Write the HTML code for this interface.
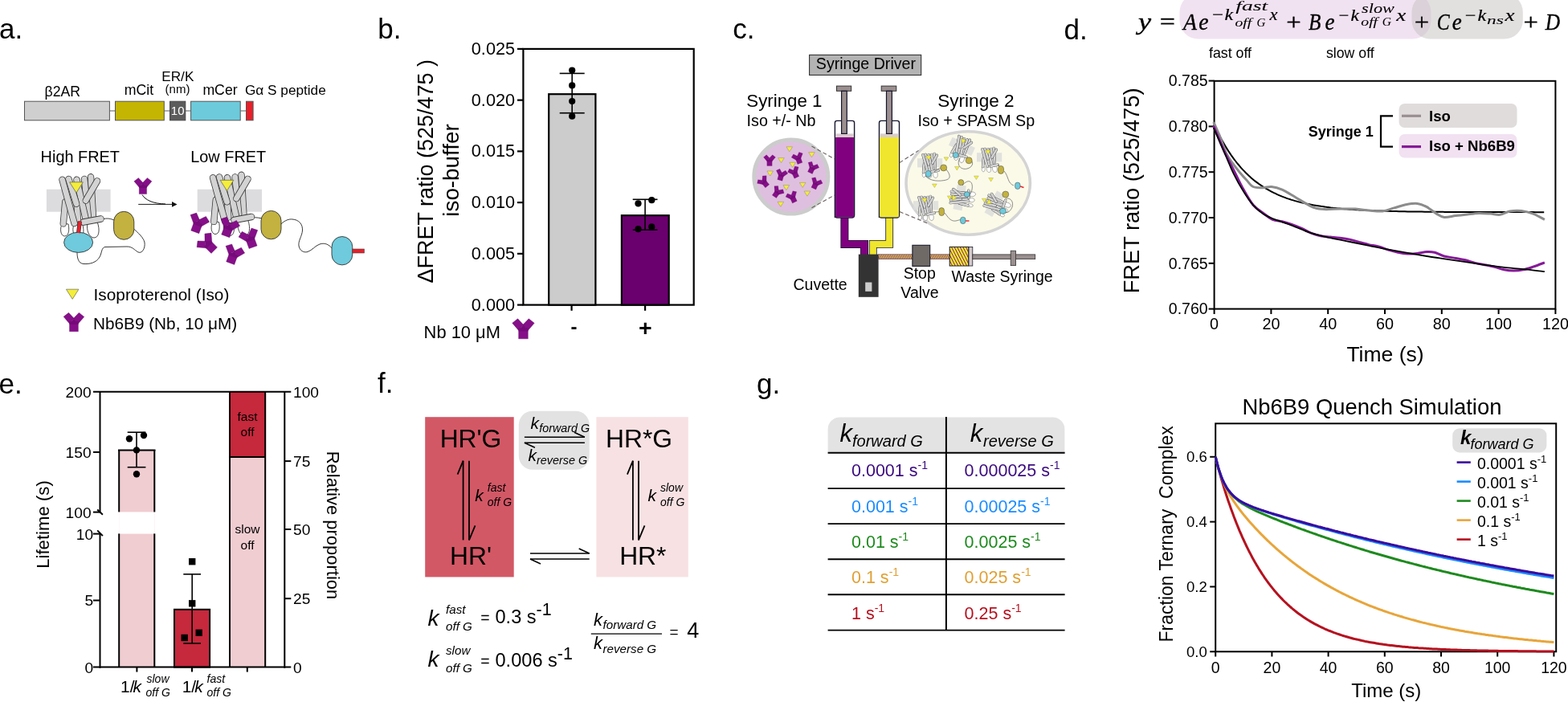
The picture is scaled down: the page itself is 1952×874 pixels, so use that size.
<!DOCTYPE html>
<html><head><meta charset="utf-8"><title>Figure</title>
<style>
html,body{margin:0;padding:0;background:#fff;}
body{width:1952px;height:874px;overflow:hidden;}
svg{display:block;font-family:"Liberation Sans",Arial,sans-serif;}
</style></head><body>
<svg width="1952" height="874" viewBox="0 0 1952 874">
<text x="-1" y="48.3" font-size="35">a.</text>
<text x="470.2" y="48" font-size="35">b.</text>
<text x="912.3" y="48.1" font-size="35">c.</text>
<text x="1324.5" y="48.6" font-size="35">d.</text>
<text x="-1.4" y="490.4" font-size="35">e.</text>
<text x="470" y="489.4" font-size="35">f.</text>
<text x="942" y="489.5" font-size="35">g.</text>
<rect x="651.4" y="60.9" width="212.3" height="318.7" fill="none" stroke="#000" stroke-width="2.2"/>
<line x1="644.0" y1="379.6" x2="651.4" y2="379.6" stroke="#000" stroke-width="2.2"/>
<text x="641.1" y="386.70000000000005" font-size="21.7" text-anchor="end">0.000</text>
<line x1="644.0" y1="315.86" x2="651.4" y2="315.86" stroke="#000" stroke-width="2.2"/>
<text x="641.1" y="322.96000000000004" font-size="21.7" text-anchor="end">0.005</text>
<line x1="644.0" y1="252.12000000000003" x2="651.4" y2="252.12000000000003" stroke="#000" stroke-width="2.2"/>
<text x="641.1" y="259.22" font-size="21.7" text-anchor="end">0.010</text>
<line x1="644.0" y1="188.38000000000002" x2="651.4" y2="188.38000000000002" stroke="#000" stroke-width="2.2"/>
<text x="641.1" y="195.48000000000002" font-size="21.7" text-anchor="end">0.015</text>
<line x1="644.0" y1="124.64000000000004" x2="651.4" y2="124.64000000000004" stroke="#000" stroke-width="2.2"/>
<text x="641.1" y="131.74000000000004" font-size="21.7" text-anchor="end">0.020</text>
<line x1="644.0" y1="60.900000000000034" x2="651.4" y2="60.900000000000034" stroke="#000" stroke-width="2.2"/>
<text x="641.1" y="68.00000000000003" font-size="21.7" text-anchor="end">0.025</text>
<rect x="683.2" y="117.2" width="58.2" height="262.4" fill="#cccccc" stroke="#000" stroke-width="2.2"/>
<rect x="773.9" y="268.2" width="58.8" height="111.4" fill="#6a006e" stroke="#000" stroke-width="2.2"/>
<line x1="712.2" y1="91.4" x2="712.2" y2="140.7" stroke="#000" stroke-width="1.6"/>
<line x1="696.7" y1="91.4" x2="727.7" y2="91.4" stroke="#000" stroke-width="1.6"/>
<line x1="696.7" y1="140.7" x2="727.7" y2="140.7" stroke="#000" stroke-width="1.6"/>
<line x1="803.1" y1="248.3" x2="803.1" y2="286.2" stroke="#000" stroke-width="1.6"/>
<line x1="787.7" y1="248.3" x2="818.5" y2="248.3" stroke="#000" stroke-width="1.6"/>
<line x1="787.7" y1="286.2" x2="818.5" y2="286.2" stroke="#000" stroke-width="1.6"/>
<circle cx="712.2" cy="87.6" r="4.1" fill="#000"/>
<circle cx="712.2" cy="106.4" r="4.1" fill="#000"/>
<circle cx="712.2" cy="126" r="4.1" fill="#000"/>
<circle cx="712.2" cy="144.7" r="4.1" fill="#000"/>
<circle cx="794.5" cy="253.3" r="4.1" fill="#000"/>
<circle cx="811.3" cy="249.2" r="4.1" fill="#000"/>
<circle cx="794.5" cy="285.2" r="4.1" fill="#000"/>
<circle cx="811.3" cy="282.4" r="4.1" fill="#000"/>
<line x1="711.6" y1="379.6" x2="711.6" y2="386.8" stroke="#000" stroke-width="2.2"/>
<line x1="803.1" y1="379.6" x2="803.1" y2="386.8" stroke="#000" stroke-width="2.2"/>
<text x="714.5" y="414.5" font-size="24" text-anchor="middle" font-weight="bold">-</text>
<text x="803.4" y="418" font-size="28.5" text-anchor="middle" font-weight="bold">+</text>
<text x="527.6" y="420.5" font-size="21.9">Nb 10 μM</text>
<text x="538.7" y="213.2" font-size="27" text-anchor="middle" transform="rotate(-90 538.7 213.2)">ΔFRET ratio (525/475 )</text>
<text x="570.6" y="212" font-size="27.8" text-anchor="middle" transform="rotate(-90 570.6 212)">iso-buffer</text>
<g transform="translate(651.3,409.3) scale(1.07)">
<path d="M-12.7,-6.7 L-6.3,-11.7 L0.5,-4.5 L-5.5,1.8 Z M6.5,-11.7 L13,-6.6 L5.8,1.8 L-0.5,-4.5 Z M-5.3,-0.5 H5.6 V11.7 H-5.3 Z" fill="#860f89" stroke="#5a0a5c" stroke-width="0.35"/>
<path d="M-5.3,1.8 L0.2,-4.6 L5.8,1.8 L5.6,3 L-5.3,3Z" fill="#760a7a"/>
</g>
<rect x="1468.5" y="-8" width="313" height="56.5" rx="23" fill="#f1e2f1"/>
<rect x="1757.5" y="-8" width="138.3" height="56.5" rx="23" fill="#c6bfbf" fill-opacity="0.5"/>
<text x="1416.9" y="36.9" font-size="29" font-family="&quot;Liberation Serif&quot;,&quot;DejaVu Serif&quot;,serif" font-style="italic" textLength="16.1" lengthAdjust="spacingAndGlyphs" stroke="#000" stroke-width="0.35">y</text>
<text x="1443.8" y="36.9" font-size="29" font-family="&quot;Liberation Serif&quot;,&quot;DejaVu Serif&quot;,serif" textLength="19.2" lengthAdjust="spacingAndGlyphs" stroke="#000" stroke-width="0.35">=</text>
<text x="1473" y="36.9" font-size="29" font-family="&quot;Liberation Serif&quot;,&quot;DejaVu Serif&quot;,serif" font-style="italic" textLength="17.0" lengthAdjust="spacingAndGlyphs" stroke="#000" stroke-width="0.35">A</text>
<text x="1492.2" y="36.9" font-size="29" font-family="&quot;Liberation Serif&quot;,&quot;DejaVu Serif&quot;,serif" font-style="italic" textLength="12.3" lengthAdjust="spacingAndGlyphs" stroke="#000" stroke-width="0.35">e</text>
<text x="1509" y="25.4" font-size="21" font-family="&quot;Liberation Serif&quot;,&quot;DejaVu Serif&quot;,serif" textLength="14.0" lengthAdjust="spacingAndGlyphs" stroke="#000" stroke-width="0.2">−</text>
<text x="1524.5" y="25.4" font-size="21" font-family="&quot;Liberation Serif&quot;,&quot;DejaVu Serif&quot;,serif" font-style="italic" textLength="10.7" lengthAdjust="spacingAndGlyphs" stroke="#000" stroke-width="0.2">k</text>
<text x="1538.3" y="13" font-size="16.5" font-family="&quot;Liberation Serif&quot;,&quot;DejaVu Serif&quot;,serif" font-style="italic" textLength="40.0" lengthAdjust="spacingAndGlyphs" stroke="#000" stroke-width="0.06">fast</text>
<text x="1537.5" y="33" font-size="15.5" font-family="&quot;Liberation Serif&quot;,&quot;DejaVu Serif&quot;,serif" font-style="italic" textLength="20.8" lengthAdjust="spacingAndGlyphs" stroke="#000" stroke-width="0.06">off</text>
<text x="1564.4" y="33" font-size="15.5" font-family="&quot;Liberation Serif&quot;,&quot;DejaVu Serif&quot;,serif" font-style="italic" textLength="10.8" lengthAdjust="spacingAndGlyphs" stroke="#000" stroke-width="0.06">G</text>
<text x="1580.6" y="25.4" font-size="21" font-family="&quot;Liberation Serif&quot;,&quot;DejaVu Serif&quot;,serif" font-style="italic" textLength="10.0" lengthAdjust="spacingAndGlyphs" stroke="#000" stroke-width="0.2">x</text>
<text x="1601.3" y="36.9" font-size="29" font-family="&quot;Liberation Serif&quot;,&quot;DejaVu Serif&quot;,serif" textLength="18.5" lengthAdjust="spacingAndGlyphs" stroke="#000" stroke-width="0.35">+</text>
<text x="1629" y="36.9" font-size="29" font-family="&quot;Liberation Serif&quot;,&quot;DejaVu Serif&quot;,serif" font-style="italic" textLength="15.4" lengthAdjust="spacingAndGlyphs" stroke="#000" stroke-width="0.35">B</text>
<text x="1649.6" y="36.9" font-size="29" font-family="&quot;Liberation Serif&quot;,&quot;DejaVu Serif&quot;,serif" font-style="italic" textLength="12.0" lengthAdjust="spacingAndGlyphs" stroke="#000" stroke-width="0.35">e</text>
<text x="1666.4" y="25.6" font-size="21" font-family="&quot;Liberation Serif&quot;,&quot;DejaVu Serif&quot;,serif" textLength="12.8" lengthAdjust="spacingAndGlyphs" stroke="#000" stroke-width="0.2">−</text>
<text x="1681.6" y="25.6" font-size="21" font-family="&quot;Liberation Serif&quot;,&quot;DejaVu Serif&quot;,serif" font-style="italic" textLength="10.4" lengthAdjust="spacingAndGlyphs" stroke="#000" stroke-width="0.2">k</text>
<text x="1695.1" y="16" font-size="16.5" font-family="&quot;Liberation Serif&quot;,&quot;DejaVu Serif&quot;,serif" font-style="italic" textLength="40.8" lengthAdjust="spacingAndGlyphs" stroke="#000" stroke-width="0.06">slow</text>
<text x="1694.3" y="32" font-size="15.5" font-family="&quot;Liberation Serif&quot;,&quot;DejaVu Serif&quot;,serif" font-style="italic" textLength="20.8" lengthAdjust="spacingAndGlyphs" stroke="#000" stroke-width="0.06">off</text>
<text x="1720.7" y="32" font-size="15.5" font-family="&quot;Liberation Serif&quot;,&quot;DejaVu Serif&quot;,serif" font-style="italic" textLength="11.2" lengthAdjust="spacingAndGlyphs" stroke="#000" stroke-width="0.06">G</text>
<text x="1738.3" y="25.6" font-size="21" font-family="&quot;Liberation Serif&quot;,&quot;DejaVu Serif&quot;,serif" font-style="italic" textLength="12.0" lengthAdjust="spacingAndGlyphs" stroke="#000" stroke-width="0.2">x</text>
<text x="1760.7" y="36.9" font-size="29" font-family="&quot;Liberation Serif&quot;,&quot;DejaVu Serif&quot;,serif" textLength="18.4" lengthAdjust="spacingAndGlyphs" stroke="#000" stroke-width="0.35">+</text>
<text x="1788.7" y="36.8" font-size="29" font-family="&quot;Liberation Serif&quot;,&quot;DejaVu Serif&quot;,serif" font-style="italic" textLength="15.9" lengthAdjust="spacingAndGlyphs" stroke="#000" stroke-width="0.35">C</text>
<text x="1807.8" y="36.8" font-size="29" font-family="&quot;Liberation Serif&quot;,&quot;DejaVu Serif&quot;,serif" font-style="italic" textLength="12.0" lengthAdjust="spacingAndGlyphs" stroke="#000" stroke-width="0.35">e</text>
<text x="1823.8" y="25.6" font-size="21" font-family="&quot;Liberation Serif&quot;,&quot;DejaVu Serif&quot;,serif" textLength="13.6" lengthAdjust="spacingAndGlyphs" stroke="#000" stroke-width="0.2">−</text>
<text x="1839.5" y="25.6" font-size="21" font-family="&quot;Liberation Serif&quot;,&quot;DejaVu Serif&quot;,serif" font-style="italic" textLength="10.7" lengthAdjust="spacingAndGlyphs" stroke="#000" stroke-width="0.2">k</text>
<text x="1851" y="29.6" font-size="15.5" font-family="&quot;Liberation Serif&quot;,&quot;DejaVu Serif&quot;,serif" font-style="italic" textLength="20.8" lengthAdjust="spacingAndGlyphs" stroke="#000" stroke-width="0.06">ns</text>
<text x="1873.4" y="25.6" font-size="21" font-family="&quot;Liberation Serif&quot;,&quot;DejaVu Serif&quot;,serif" font-style="italic" textLength="12.0" lengthAdjust="spacingAndGlyphs" stroke="#000" stroke-width="0.2">x</text>
<text x="1896.6" y="36.9" font-size="29" font-family="&quot;Liberation Serif&quot;,&quot;DejaVu Serif&quot;,serif" textLength="18.4" lengthAdjust="spacingAndGlyphs" stroke="#000" stroke-width="0.35">+</text>
<text x="1923.7" y="36.8" font-size="29" font-family="&quot;Liberation Serif&quot;,&quot;DejaVu Serif&quot;,serif" font-style="italic" textLength="18.4" lengthAdjust="spacingAndGlyphs" stroke="#000" stroke-width="0.35">D</text>
<text x="1505" y="72.4" font-size="17.8">fast off</text>
<text x="1651" y="72.4" font-size="17.7">slow off</text>
<rect x="1511.6" y="100.8" width="424.8" height="283.8" fill="none" stroke="#000" stroke-width="2.0"/>
<line x1="1504.6" y1="384.6" x2="1511.6" y2="384.6" stroke="#000" stroke-width="2.0"/>
<text x="1503.6" y="391.40000000000003" font-size="19.5" text-anchor="end">0.760</text>
<line x1="1504.6" y1="327.79999999999995" x2="1511.6" y2="327.79999999999995" stroke="#000" stroke-width="2.0"/>
<text x="1503.6" y="334.59999999999997" font-size="19.5" text-anchor="end">0.765</text>
<line x1="1504.6" y1="270.9999999999999" x2="1511.6" y2="270.9999999999999" stroke="#000" stroke-width="2.0"/>
<text x="1503.6" y="277.7999999999999" font-size="19.5" text-anchor="end">0.770</text>
<line x1="1504.6" y1="214.19999999999987" x2="1511.6" y2="214.19999999999987" stroke="#000" stroke-width="2.0"/>
<text x="1503.6" y="220.9999999999999" font-size="19.5" text-anchor="end">0.775</text>
<line x1="1504.6" y1="157.3999999999998" x2="1511.6" y2="157.3999999999998" stroke="#000" stroke-width="2.0"/>
<text x="1503.6" y="164.19999999999982" font-size="19.5" text-anchor="end">0.780</text>
<line x1="1504.6" y1="100.5999999999998" x2="1511.6" y2="100.5999999999998" stroke="#000" stroke-width="2.0"/>
<text x="1503.6" y="107.39999999999979" font-size="19.5" text-anchor="end">0.785</text>
<line x1="1511.6" y1="384.6" x2="1511.6" y2="391" stroke="#000" stroke-width="2.0"/>
<text x="1511.6" y="409.8" font-size="19.8" text-anchor="middle">0</text>
<line x1="1582.3999999999999" y1="384.6" x2="1582.3999999999999" y2="391" stroke="#000" stroke-width="2.0"/>
<text x="1582.3999999999999" y="409.8" font-size="19.8" text-anchor="middle">20</text>
<line x1="1653.2" y1="384.6" x2="1653.2" y2="391" stroke="#000" stroke-width="2.0"/>
<text x="1653.2" y="409.8" font-size="19.8" text-anchor="middle">40</text>
<line x1="1724.0" y1="384.6" x2="1724.0" y2="391" stroke="#000" stroke-width="2.0"/>
<text x="1724.0" y="409.8" font-size="19.8" text-anchor="middle">60</text>
<line x1="1794.8" y1="384.6" x2="1794.8" y2="391" stroke="#000" stroke-width="2.0"/>
<text x="1794.8" y="409.8" font-size="19.8" text-anchor="middle">80</text>
<line x1="1865.6" y1="384.6" x2="1865.6" y2="391" stroke="#000" stroke-width="2.0"/>
<text x="1865.6" y="409.8" font-size="19.8" text-anchor="middle">100</text>
<line x1="1936.4" y1="384.6" x2="1936.4" y2="391" stroke="#000" stroke-width="2.0"/>
<text x="1936.4" y="409.8" font-size="19.8" text-anchor="middle">120</text>
<text x="1724.5" y="449.9" font-size="26.5" text-anchor="middle">Time (s)</text>
<text x="1417.7" y="237.4" font-size="27.3" text-anchor="middle" transform="rotate(-90 1417.7 237.4)">FRET ratio (525/475)</text>
<path d="M1511.6,155.1 C1512.2,156.4 1514.0,160.3 1515.1,162.7 C1516.3,165.1 1517.5,167.5 1518.7,169.7 C1519.9,172.0 1521.0,174.2 1522.2,176.3 C1523.4,178.4 1524.6,180.4 1525.8,182.4 C1526.9,184.4 1528.1,186.2 1529.3,188.1 C1530.5,189.9 1531.7,191.7 1532.8,193.4 C1534.0,195.1 1535.2,196.7 1536.4,198.3 C1537.6,199.9 1538.7,201.4 1539.9,202.9 C1541.1,204.3 1542.3,205.7 1543.5,207.1 C1544.6,208.5 1545.8,209.8 1547.0,211.1 C1548.2,212.3 1549.4,213.6 1550.5,214.8 C1551.7,215.9 1552.9,217.1 1554.1,218.2 C1555.3,219.3 1556.4,220.4 1557.6,221.4 C1558.8,222.4 1560.0,223.4 1561.2,224.4 C1562.3,225.3 1563.5,226.2 1564.7,227.1 C1565.9,228.0 1567.1,228.9 1568.2,229.7 C1569.4,230.5 1570.6,231.3 1571.8,232.1 C1573.0,232.9 1574.1,233.6 1575.3,234.3 C1576.5,235.0 1577.7,235.7 1578.9,236.4 C1580.0,237.1 1581.2,237.7 1582.4,238.3 C1583.6,238.9 1584.8,239.5 1585.9,240.1 C1587.1,240.7 1588.3,241.2 1589.5,241.8 C1590.7,242.3 1591.8,242.8 1593.0,243.3 C1594.2,243.8 1595.4,244.3 1596.6,244.8 C1597.7,245.3 1598.9,245.7 1600.1,246.1 C1601.3,246.6 1602.5,247.0 1603.6,247.4 C1604.8,247.8 1606.0,248.2 1607.2,248.6 C1608.4,248.9 1609.5,249.3 1610.7,249.6 C1611.9,250.0 1613.1,250.3 1614.3,250.6 C1615.4,251.0 1616.6,251.3 1617.8,251.6 C1619.0,251.9 1620.2,252.2 1621.3,252.5 C1622.5,252.7 1623.7,253.0 1624.9,253.3 C1626.1,253.5 1627.2,253.8 1628.4,254.0 C1629.6,254.3 1630.8,254.5 1632.0,254.7 C1633.1,255.0 1634.3,255.2 1635.5,255.4 C1636.7,255.6 1637.9,255.8 1639.0,256.0 C1640.2,256.2 1641.4,256.4 1642.6,256.6 C1643.8,256.8 1644.9,256.9 1646.1,257.1 C1647.3,257.3 1648.5,257.4 1649.7,257.6 C1650.8,257.7 1652.0,257.9 1653.2,258.0 C1654.4,258.2 1655.6,258.3 1656.7,258.5 C1657.9,258.6 1659.1,258.7 1660.3,258.9 C1661.5,259.0 1662.6,259.1 1663.8,259.2 C1665.0,259.4 1666.2,259.5 1667.4,259.6 C1668.5,259.7 1669.7,259.8 1670.9,259.9 C1672.1,260.0 1673.3,260.1 1674.4,260.2 C1675.6,260.3 1676.8,260.4 1678.0,260.5 C1679.2,260.6 1680.3,260.7 1681.5,260.7 C1682.7,260.8 1683.9,260.9 1685.1,261.0 C1686.2,261.0 1687.4,261.1 1688.6,261.2 C1689.8,261.3 1691.0,261.3 1692.1,261.4 C1693.3,261.5 1694.5,261.5 1695.7,261.6 C1696.9,261.7 1698.0,261.7 1699.2,261.8 C1700.4,261.8 1701.6,261.9 1702.8,261.9 C1703.9,262.0 1705.1,262.0 1706.3,262.1 C1707.5,262.1 1708.7,262.2 1709.8,262.2 C1711.0,262.3 1712.2,262.3 1713.4,262.4 C1714.6,262.4 1715.7,262.5 1716.9,262.5 C1718.1,262.5 1719.3,262.6 1720.5,262.6 C1721.6,262.7 1722.8,262.7 1724.0,262.7 C1725.2,262.8 1726.4,262.8 1727.5,262.8 C1728.7,262.9 1729.9,262.9 1731.1,262.9 C1732.3,263.0 1733.4,263.0 1734.6,263.0 C1735.8,263.0 1737.0,263.1 1738.2,263.1 C1739.3,263.1 1740.5,263.1 1741.7,263.2 C1742.9,263.2 1744.1,263.2 1745.2,263.2 C1746.4,263.3 1747.6,263.3 1748.8,263.3 C1750.0,263.3 1751.1,263.3 1752.3,263.4 C1753.5,263.4 1754.7,263.4 1755.9,263.4 C1757.0,263.4 1758.2,263.5 1759.4,263.5 C1760.6,263.5 1761.8,263.5 1762.9,263.5 C1764.1,263.5 1765.3,263.6 1766.5,263.6 C1767.7,263.6 1768.8,263.6 1770.0,263.6 C1771.2,263.6 1772.4,263.6 1773.6,263.7 C1774.7,263.7 1775.9,263.7 1777.1,263.7 C1778.3,263.7 1779.5,263.7 1780.6,263.7 C1781.8,263.7 1783.0,263.7 1784.2,263.8 C1785.4,263.8 1786.5,263.8 1787.7,263.8 C1788.9,263.8 1790.1,263.8 1791.3,263.8 C1792.4,263.8 1793.6,263.8 1794.8,263.8 C1796.0,263.8 1797.2,263.9 1798.3,263.9 C1799.5,263.9 1800.7,263.9 1801.9,263.9 C1803.1,263.9 1804.2,263.9 1805.4,263.9 C1806.6,263.9 1807.8,263.9 1809.0,263.9 C1810.1,263.9 1811.3,263.9 1812.5,263.9 C1813.7,263.9 1814.9,264.0 1816.0,264.0 C1817.2,264.0 1818.4,264.0 1819.6,264.0 C1820.8,264.0 1821.9,264.0 1823.1,264.0 C1824.3,264.0 1825.5,264.0 1826.7,264.0 C1827.8,264.0 1829.0,264.0 1830.2,264.0 C1831.4,264.0 1832.6,264.0 1833.7,264.0 C1834.9,264.0 1836.1,264.0 1837.3,264.0 C1838.5,264.0 1839.6,264.0 1840.8,264.0 C1842.0,264.1 1843.2,264.1 1844.4,264.1 C1845.5,264.1 1846.7,264.1 1847.9,264.1 C1849.1,264.1 1850.3,264.1 1851.4,264.1 C1852.6,264.1 1853.8,264.1 1855.0,264.1 C1856.2,264.1 1857.3,264.1 1858.5,264.1 C1859.7,264.1 1860.9,264.1 1862.1,264.1 C1863.2,264.1 1864.4,264.1 1865.6,264.1 C1866.8,264.1 1868.0,264.1 1869.1,264.1 C1870.3,264.1 1871.5,264.1 1872.7,264.1 C1873.9,264.1 1875.0,264.1 1876.2,264.1 C1877.4,264.1 1878.6,264.1 1879.8,264.1 C1880.9,264.1 1882.1,264.1 1883.3,264.1 C1884.5,264.1 1885.7,264.1 1886.8,264.1 C1888.0,264.1 1889.2,264.1 1890.4,264.1 C1891.6,264.1 1892.7,264.1 1893.9,264.1 C1895.1,264.1 1896.3,264.1 1897.5,264.1 C1898.6,264.1 1899.8,264.1 1901.0,264.1 C1902.2,264.1 1903.4,264.1 1904.5,264.1 C1905.7,264.1 1906.9,264.1 1908.1,264.1 C1909.3,264.2 1910.4,264.2 1911.6,264.2 C1912.8,264.2 1914.0,264.2 1915.2,264.2 C1916.3,264.2 1917.5,264.2 1918.7,264.2 C1919.9,264.2 1921.7,264.2 1922.2,264.2" fill="none" stroke="#000" stroke-width="2"/>
<path d="M1510.8,152.0 C1512.2,155.2 1516.6,164.8 1519.2,171.2 C1521.8,177.6 1523.8,185.1 1526.4,190.5 C1529.0,195.9 1532.0,199.7 1534.8,203.7 C1537.6,207.7 1540.4,211.1 1543.2,214.5 C1546.1,217.9 1548.9,221.1 1551.7,224.1 C1554.5,227.1 1556.7,230.9 1560.1,232.5 C1563.5,234.1 1568.3,233.7 1572.1,233.7 C1575.9,233.7 1578.9,232.1 1582.9,232.5 C1586.9,232.9 1591.1,233.9 1596.1,236.1 C1601.1,238.3 1608.1,242.9 1612.9,245.7 C1617.7,248.5 1620.9,250.7 1624.9,252.9 C1628.9,255.1 1632.9,257.7 1637.0,258.9 C1641.0,260.2 1643.8,260.4 1649.0,260.6 C1654.2,260.8 1661.8,260.2 1668.2,260.1 C1674.6,260.1 1681.4,259.8 1687.4,260.1 C1693.4,260.5 1698.6,261.6 1704.2,262.1 C1709.8,262.5 1715.8,263.5 1721.0,263.0 C1726.3,262.5 1730.7,260.3 1735.5,258.9 C1740.3,257.6 1745.1,255.8 1749.9,254.8 C1754.7,253.9 1759.9,252.9 1764.3,253.4 C1768.7,253.9 1772.3,255.6 1776.3,257.7 C1780.3,259.9 1784.7,264.0 1788.3,266.1 C1791.9,268.3 1793.9,270.1 1797.9,270.5 C1801.9,270.9 1807.5,269.1 1812.3,268.5 C1817.2,267.9 1822.0,267.4 1826.8,266.9 C1831.6,266.3 1836.4,265.5 1841.2,265.4 C1846.0,265.3 1851.2,265.8 1855.6,266.1 C1860.0,266.5 1863.6,267.9 1867.6,267.3 C1871.6,266.8 1875.2,263.8 1879.6,263.0 C1884.0,262.2 1889.2,262.0 1894.0,262.5 C1898.8,263.1 1903.7,264.3 1908.5,266.1 C1913.3,267.9 1920.5,272.1 1922.9,273.3" fill="none" stroke="#8c8c8c" stroke-width="3"/>
<path d="M1510.8,156.8 C1513.0,162.0 1519.8,178.8 1524.0,188.1 C1528.2,197.3 1532.0,204.1 1536.0,212.1 C1540.0,220.1 1544.0,228.9 1548.1,236.1 C1552.1,243.3 1556.1,250.5 1560.1,255.3 C1564.1,260.1 1568.1,261.9 1572.1,264.9 C1576.1,267.9 1580.1,271.5 1584.1,273.3 C1588.1,275.2 1592.1,274.8 1596.1,275.8 C1600.1,276.8 1604.1,278.0 1608.1,279.4 C1612.1,280.8 1616.1,282.4 1620.1,284.2 C1624.1,286.0 1628.1,288.6 1632.1,290.2 C1636.2,291.8 1640.2,293.0 1644.2,293.8 C1648.2,294.6 1652.2,294.6 1656.2,295.0 C1660.2,295.4 1664.2,295.7 1668.2,296.2 C1672.2,296.7 1676.2,297.2 1680.2,298.1 C1684.2,299.0 1688.2,300.4 1692.2,301.5 C1696.2,302.5 1700.2,303.7 1704.2,304.6 C1708.2,305.5 1712.2,305.9 1716.2,307.0 C1720.2,308.1 1724.3,309.9 1728.3,311.1 C1732.3,312.3 1736.3,313.4 1740.3,314.2 C1744.3,315.0 1748.3,315.7 1752.3,315.9 C1756.3,316.1 1760.3,315.8 1764.3,315.4 C1768.3,315.0 1772.7,313.7 1776.3,313.5 C1779.9,313.3 1782.3,313.3 1785.9,314.2 C1789.5,315.1 1793.5,317.8 1797.9,319.0 C1802.3,320.2 1807.9,320.6 1812.3,321.4 C1816.8,322.2 1820.4,322.8 1824.4,323.8 C1828.4,324.8 1832.4,326.4 1836.4,327.4 C1840.4,328.4 1844.4,329.0 1848.4,329.8 C1852.4,330.6 1856.4,331.2 1860.4,332.2 C1864.4,333.2 1868.4,335.0 1872.4,335.8 C1876.4,336.6 1880.4,337.0 1884.4,337.0 C1888.4,337.0 1892.4,336.6 1896.4,335.8 C1900.4,335.0 1904.1,333.7 1908.5,332.2 C1912.9,330.7 1920.5,327.8 1922.9,326.9" fill="none" stroke="#861a98" stroke-width="3"/>
<path d="M1510.8,159.2 C1513.0,164.2 1519.8,179.6 1524.0,189.3 C1528.2,198.9 1532.0,208.7 1536.0,216.9 C1540.0,225.1 1544.0,232.1 1548.1,238.5 C1552.1,244.9 1556.1,250.7 1560.1,255.3 C1564.1,259.9 1568.1,263.3 1572.1,266.1 C1576.1,268.9 1578.1,269.7 1584.1,272.1 C1590.1,274.6 1600.1,277.6 1608.1,280.6 C1616.1,283.6 1624.1,287.6 1632.1,290.2 C1640.2,292.8 1648.2,294.4 1656.2,296.2 C1664.2,298.0 1672.2,299.4 1680.2,301.0 C1688.2,302.6 1696.2,304.2 1704.2,305.8 C1712.2,307.4 1720.2,309.1 1728.3,310.6 C1736.3,312.1 1744.3,313.5 1752.3,314.9 C1760.3,316.3 1768.3,317.7 1776.3,319.0 C1784.3,320.3 1792.3,321.4 1800.3,322.6 C1808.3,323.8 1816.4,325.0 1824.4,326.2 C1832.4,327.4 1840.4,328.7 1848.4,329.8 C1856.4,330.9 1864.4,332.1 1872.4,332.9 C1880.4,333.8 1888.0,334.2 1896.4,335.1 C1904.9,336.0 1918.5,337.7 1922.9,338.2" fill="none" stroke="#000" stroke-width="1.8"/>
<rect x="1741.6" y="129" width="146.9" height="30" fill="#e0dcdc" stroke="none" stroke-width="0" rx="7"/>
<rect x="1741.6" y="167" width="146.9" height="29.5" fill="#f1e1f1" stroke="none" stroke-width="0" rx="7"/>
<line x1="1745" y1="144.3" x2="1769" y2="144.3" stroke="#9a8f90" stroke-width="3.2"/>
<line x1="1745" y1="182.6" x2="1769" y2="182.6" stroke="#861a98" stroke-width="3.2"/>
<text x="1779" y="150.6" font-size="18.6" font-weight="bold">Iso</text>
<text x="1779" y="188.4" font-size="18.6" font-weight="bold">Iso + Nb6B9</text>
<text x="1628.8" y="169.8" font-size="18.0" font-weight="bold">Syringe 1</text>
<path d="M1734,144.3 H1719 V182.6 H1734" fill="none" stroke="#000" stroke-width="2.2"/>
<rect x="148.2" y="560.4" width="44.1" height="270.20000000000005" fill="#f0cdd1" stroke="none" stroke-width="1"/>
<rect x="148.2" y="637.4" width="44.1" height="27.2" fill="#fff" stroke="none" stroke-width="1"/>
<line x1="148.2" y1="560.4" x2="148.2" y2="637.4" stroke="#000" stroke-width="2.0"/>
<line x1="192.3" y1="560.4" x2="192.3" y2="637.4" stroke="#000" stroke-width="2.0"/>
<line x1="147" y1="560.4" x2="193.5" y2="560.4" stroke="#000" stroke-width="2.0"/>
<line x1="148.2" y1="664.4" x2="148.2" y2="830.6" stroke="#000" stroke-width="2.0"/>
<line x1="192.3" y1="664.4" x2="192.3" y2="830.6" stroke="#000" stroke-width="2.0"/>
<rect x="217.0" y="758.8" width="44.1" height="71.80000000000007" fill="#c6283c" stroke="#000" stroke-width="2.0"/>
<rect x="286.0" y="487.8" width="44.2" height="81.19999999999999" fill="#c6283c" stroke="none" stroke-width="1"/>
<rect x="286.0" y="569" width="44.2" height="261.6" fill="#f0cdd1" stroke="none" stroke-width="1"/>
<line x1="286.0" y1="487.8" x2="286.0" y2="830.6" stroke="#000" stroke-width="2.0"/>
<line x1="330.2" y1="487.8" x2="330.2" y2="830.6" stroke="#000" stroke-width="2.0"/>
<line x1="286" y1="569" x2="330.2" y2="569" stroke="#000" stroke-width="2.0"/>
<line x1="116" y1="487.8" x2="362.3" y2="487.8" stroke="#000" stroke-width="2.0"/>
<line x1="124.5" y1="487.8" x2="124.5" y2="637.8" stroke="#000" stroke-width="2.0"/>
<line x1="124.5" y1="664.6" x2="124.5" y2="831.8000000000001" stroke="#000" stroke-width="2.0"/>
<line x1="121.2" y1="634.4" x2="127.9" y2="640.7" stroke="#000" stroke-width="2.0"/>
<line x1="121.2" y1="660.4" x2="127.9" y2="667.1" stroke="#000" stroke-width="2.0"/>
<line x1="354.3" y1="487.8" x2="354.3" y2="831.8000000000001" stroke="#000" stroke-width="2.0"/>
<line x1="116" y1="830.6" x2="362.3" y2="830.6" stroke="#000" stroke-width="2.0"/>
<text x="113.6" y="494.7" font-size="19.2" text-anchor="end">200</text>
<line x1="116" y1="562.9" x2="124.5" y2="562.9" stroke="#000" stroke-width="2.0"/>
<text x="113.6" y="569.8" font-size="19.2" text-anchor="end">150</text>
<line x1="116" y1="637.6" x2="124.5" y2="637.6" stroke="#000" stroke-width="2.0"/>
<text x="113.6" y="644.5" font-size="19.2" text-anchor="end">100</text>
<line x1="116" y1="664.6" x2="124.5" y2="664.6" stroke="#000" stroke-width="2.0"/>
<text x="116.2" y="671.5" font-size="19.2" text-anchor="end">10</text>
<line x1="116" y1="747.5" x2="124.5" y2="747.5" stroke="#000" stroke-width="2.0"/>
<text x="116.2" y="754.4" font-size="19.2" text-anchor="end">5</text>
<text x="116.2" y="837.5" font-size="19.2" text-anchor="end">0</text>
<text x="365" y="494.7" font-size="19.2">100</text>
<line x1="354.3" y1="574.1" x2="362.3" y2="574.1" stroke="#000" stroke-width="2.0"/>
<text x="365" y="581.0" font-size="19.2">75</text>
<line x1="354.3" y1="659.0" x2="362.3" y2="659.0" stroke="#000" stroke-width="2.0"/>
<text x="365" y="665.9" font-size="19.2">50</text>
<line x1="354.3" y1="745.2" x2="362.3" y2="745.2" stroke="#000" stroke-width="2.0"/>
<text x="365" y="752.1" font-size="19.2">25</text>
<text x="365" y="837.5" font-size="19.2">0</text>
<line x1="170.4" y1="830.6" x2="170.4" y2="836.6" stroke="#000" stroke-width="2.0"/>
<line x1="239.0" y1="830.6" x2="239.0" y2="836.6" stroke="#000" stroke-width="2.0"/>
<line x1="307.8" y1="830.6" x2="307.8" y2="836.6" stroke="#000" stroke-width="2.0"/>
<line x1="170" y1="538.2" x2="170" y2="581.7" stroke="#000" stroke-width="1.6"/>
<line x1="158.7" y1="538.2" x2="181.4" y2="538.2" stroke="#000" stroke-width="1.6"/>
<line x1="158.7" y1="581.7" x2="181.4" y2="581.7" stroke="#000" stroke-width="1.6"/>
<circle cx="161" cy="546.2" r="4.2" fill="#000"/>
<circle cx="179" cy="542" r="4.2" fill="#000"/>
<circle cx="170" cy="560.4" r="4.2" fill="#000"/>
<circle cx="170" cy="590.3" r="4.2" fill="#000"/>
<line x1="239.2" y1="714.9" x2="239.2" y2="801" stroke="#000" stroke-width="1.6"/>
<line x1="228.3" y1="714.9" x2="250" y2="714.9" stroke="#000" stroke-width="1.6"/>
<line x1="228.3" y1="801" x2="250" y2="801" stroke="#000" stroke-width="1.6"/>
<rect x="235.0" y="695.0" width="8.4" height="8.4" fill="#000" stroke="none" stroke-width="1"/>
<rect x="235.0" y="747.0999999999999" width="8.4" height="8.4" fill="#000" stroke="none" stroke-width="1"/>
<rect x="225.5" y="789.8" width="8.4" height="8.4" fill="#000" stroke="none" stroke-width="1"/>
<rect x="243.5" y="783.5999999999999" width="8.4" height="8.4" fill="#000" stroke="none" stroke-width="1"/>
<text x="308" y="523.5" font-size="15.5" text-anchor="middle">fast</text>
<text x="308" y="543.2" font-size="15.5" text-anchor="middle">off</text>
<text x="308" y="664" font-size="15.5" text-anchor="middle">slow</text>
<text x="308" y="684" font-size="15.5" text-anchor="middle">off</text>
<text x="61.2" y="653" font-size="22.2" text-anchor="middle" transform="rotate(-90 61.2 653)">Lifetime (s)</text>
<text x="406.7" y="654" font-size="22" text-anchor="middle" transform="rotate(90 406.7 654)">Relative proportion</text>
<text x="150" y="862" font-size="21">1/</text>
<text x="165.5" y="862" font-size="21" font-style="italic">k</text>
<text x="182.5" y="849.7" font-size="14" font-style="italic">slow</text>
<text x="181.5" y="867.2" font-size="14" font-style="italic">off G</text>
<text x="226.7" y="862" font-size="21">1/</text>
<text x="242.2" y="862" font-size="21" font-style="italic">k</text>
<text x="257.5" y="849.7" font-size="14" font-style="italic">fast</text>
<text x="257.5" y="867.2" font-size="14" font-style="italic">off G</text>
<rect x="529.2" y="519.2" width="110.5" height="199.2" fill="#d35866" stroke="none" stroke-width="1"/>
<rect x="742.4" y="519.2" width="114.4" height="199.2" fill="#f7e1e3" stroke="none" stroke-width="1"/>
<rect x="645.8" y="511.8" width="87.9" height="72.9" fill="#e2e2e2" stroke="none" stroke-width="1" rx="17"/>
<text x="586" y="557.4" font-size="31.8" text-anchor="middle">HR'G</text>
<text x="795.5" y="557.4" font-size="31.8" text-anchor="middle">HR*G</text>
<text x="586" y="703.4" font-size="31.8" text-anchor="middle">HR'</text>
<text x="800.3" y="703.4" font-size="31.8" text-anchor="middle">HR*</text>
<line x1="652.9" y1="544.2" x2="727.9" y2="544.2" stroke="#000" stroke-width="1.6"/><path d="M727.9,544.2 L714.9,538.2" stroke="#000" stroke-width="1.6" fill="none"/><line x1="652.9" y1="551.3" x2="727.9" y2="551.3" stroke="#000" stroke-width="1.6"/><path d="M652.9,551.3 L665.9,557.3" stroke="#000" stroke-width="1.6" fill="none"/>
<line x1="660" y1="689" x2="733.7" y2="689" stroke="#000" stroke-width="1.6"/><path d="M733.7,689 L720.7,683" stroke="#000" stroke-width="1.6" fill="none"/><line x1="660" y1="696" x2="733.7" y2="696" stroke="#000" stroke-width="1.6"/><path d="M660,696 L673,702" stroke="#000" stroke-width="1.6" fill="none"/>
<line x1="576.6" y1="573.7" x2="576.6" y2="672.4" stroke="#000" stroke-width="1.8"/><path d="M576.6,573.7 L569.6,590.7" stroke="#000" stroke-width="1.8" fill="none"/><line x1="584.0" y1="573.7" x2="584.0" y2="672.4" stroke="#000" stroke-width="1.8"/><path d="M584.0,672.4 L591.5,654.4" stroke="#000" stroke-width="1.8" fill="none"/>
<line x1="787.9" y1="573.7" x2="787.9" y2="672.4" stroke="#000" stroke-width="1.8"/><path d="M787.9,573.7 L780.9,590.7" stroke="#000" stroke-width="1.8" fill="none"/><line x1="795.0" y1="573.7" x2="795.0" y2="672.4" stroke="#000" stroke-width="1.8"/><path d="M795.0,672.4 L802.5,654.4" stroke="#000" stroke-width="1.8" fill="none"/>
<text x="660.5" y="534.2" font-size="21" font-style="italic">k</text>
<text x="671.3" y="538.2" font-size="14.3" font-style="italic">forward G</text>
<text x="657.5" y="573.7" font-size="21" font-style="italic">k</text>
<text x="668" y="577.6" font-size="14.4" font-style="italic">reverse G</text>
<text x="591.2" y="623.7" font-size="21" font-style="italic">k</text>
<text x="606.8" y="611.8" font-size="14" font-style="italic">fast</text>
<text x="606.8" y="629.5" font-size="14" font-style="italic">off G</text>
<text x="806.4" y="623.7" font-size="21" font-style="italic">k</text>
<text x="822" y="611.8" font-size="14" font-style="italic">slow</text>
<text x="822" y="629.5" font-size="14" font-style="italic">off G</text>
<text x="532.5" y="778.7" font-size="28" font-style="italic">k</text>
<text x="555" y="763.6" font-size="15.2" font-style="italic">fast</text>
<text x="555" y="785.2" font-size="15.2" font-style="italic">off G</text>
<text x="598.2" y="775.5" font-size="19.5">=</text>
<text x="616.5" y="775.5" font-size="23.6">0.3 s</text>
<text x="667.5" y="765.7" font-size="21.5">-1</text>
<text x="532.5" y="830.4" font-size="28" font-style="italic">k</text>
<text x="555" y="815.2" font-size="15.2" font-style="italic">slow</text>
<text x="555" y="836.8" font-size="15.2" font-style="italic">off G</text>
<text x="598.2" y="830.4" font-size="19.5">=</text>
<text x="616.5" y="830.4" font-size="23.6">0.006 s</text>
<text x="693.8" y="821.3" font-size="21.5">-1</text>
<text x="739" y="778.7" font-size="22" font-style="italic">k</text>
<text x="750.5" y="783.3" font-size="15.2" font-style="italic">forward G</text>
<line x1="735.8" y1="789.2" x2="824" y2="789.2" stroke="#000" stroke-width="1.2"/>
<text x="739" y="808.2" font-size="22" font-style="italic">k</text>
<text x="750.5" y="812.9" font-size="15.2" font-style="italic">reverse G</text>
<text x="833.6" y="792.5" font-size="19">=</text>
<text x="855.2" y="793.5" font-size="27">4</text>
<path d="M1045.6,519.4 H1310.4 A15,15 0 0 1 1325.4,534.4 V563.7 H1030.6 V534.4 A15,15 0 0 1 1045.6,519.4 Z" fill="#e3e3e3"/>
<line x1="1030.6" y1="563.7" x2="1325.6" y2="563.7" stroke="#000" stroke-width="1.9"/>
<line x1="1030.6" y1="608.1" x2="1325.6" y2="608.1" stroke="#000" stroke-width="1.9"/>
<line x1="1030.6" y1="652.1" x2="1325.6" y2="652.1" stroke="#000" stroke-width="1.9"/>
<line x1="1030.6" y1="696.2" x2="1325.6" y2="696.2" stroke="#000" stroke-width="1.9"/>
<line x1="1030.6" y1="740.3" x2="1325.6" y2="740.3" stroke="#000" stroke-width="1.9"/>
<line x1="1030.6" y1="784.6" x2="1325.6" y2="784.6" stroke="#000" stroke-width="1.9"/>
<line x1="1177.9" y1="519.0" x2="1177.9" y2="784.6" stroke="#000" stroke-width="2.0"/>
<text x="1045.5" y="549.5" font-size="31" font-style="italic">k</text>
<text x="1061" y="555.5" font-size="20" font-style="italic">forward G</text>
<text x="1207.8" y="549.5" font-size="31" font-style="italic">k</text>
<text x="1224" y="555.5" font-size="20" font-style="italic">reverse G</text>
<text x="1060" y="593.3" font-size="21.5" fill="#3a0a7e">0.0001 s<tspan dy="-9" font-size="14">-1</tspan></text>
<text x="1200.6" y="593.3" font-size="21.5" fill="#3a0a7e">0.000025 s<tspan dy="-9" font-size="14">-1</tspan></text>
<text x="1060" y="637.6" font-size="21.5" fill="#1a8cff">0.001 s<tspan dy="-9" font-size="14">-1</tspan></text>
<text x="1200.6" y="637.6" font-size="21.5" fill="#1a8cff">0.00025 s<tspan dy="-9" font-size="14">-1</tspan></text>
<text x="1060" y="681.9" font-size="21.5" fill="#1e8a1e">0.01 s<tspan dy="-9" font-size="14">-1</tspan></text>
<text x="1200.6" y="681.9" font-size="21.5" fill="#1e8a1e">0.0025 s<tspan dy="-9" font-size="14">-1</tspan></text>
<text x="1060" y="726.2" font-size="21.5" fill="#e0a033">0.1 s<tspan dy="-9" font-size="14">-1</tspan></text>
<text x="1200.6" y="726.2" font-size="21.5" fill="#e0a033">0.025 s<tspan dy="-9" font-size="14">-1</tspan></text>
<text x="1060" y="770.5" font-size="21.5" fill="#b5111f">1 s<tspan dy="-9" font-size="14">-1</tspan></text>
<text x="1200.6" y="770.5" font-size="21.5" fill="#b5111f">0.25 s<tspan dy="-9" font-size="14">-1</tspan></text>
<rect x="1513.2" y="527.3" width="424.0" height="284.0" fill="none" stroke="#000" stroke-width="2.0"/>
<line x1="1506.2" y1="811.3" x2="1513.2" y2="811.3" stroke="#000" stroke-width="2.0"/>
<text x="1502.8" y="817.9" font-size="18.6" text-anchor="end">0.0</text>
<line x1="1506.2" y1="730.4599999999999" x2="1513.2" y2="730.4599999999999" stroke="#000" stroke-width="2.0"/>
<text x="1502.8" y="737.06" font-size="18.6" text-anchor="end">0.2</text>
<line x1="1506.2" y1="649.6199999999999" x2="1513.2" y2="649.6199999999999" stroke="#000" stroke-width="2.0"/>
<text x="1502.8" y="656.2199999999999" font-size="18.6" text-anchor="end">0.4</text>
<line x1="1506.2" y1="568.78" x2="1513.2" y2="568.78" stroke="#000" stroke-width="2.0"/>
<text x="1502.8" y="575.38" font-size="18.6" text-anchor="end">0.6</text>
<line x1="1513.2" y1="811.3" x2="1513.2" y2="817.5" stroke="#000" stroke-width="2.0"/>
<text x="1513.2" y="838" font-size="19.5" text-anchor="middle">0</text>
<line x1="1583.4" y1="811.3" x2="1583.4" y2="817.5" stroke="#000" stroke-width="2.0"/>
<text x="1583.4" y="838" font-size="19.5" text-anchor="middle">20</text>
<line x1="1653.6000000000001" y1="811.3" x2="1653.6000000000001" y2="817.5" stroke="#000" stroke-width="2.0"/>
<text x="1653.6000000000001" y="838" font-size="19.5" text-anchor="middle">40</text>
<line x1="1723.8000000000002" y1="811.3" x2="1723.8000000000002" y2="817.5" stroke="#000" stroke-width="2.0"/>
<text x="1723.8000000000002" y="838" font-size="19.5" text-anchor="middle">60</text>
<line x1="1794.0" y1="811.3" x2="1794.0" y2="817.5" stroke="#000" stroke-width="2.0"/>
<text x="1794.0" y="838" font-size="19.5" text-anchor="middle">80</text>
<line x1="1864.2" y1="811.3" x2="1864.2" y2="817.5" stroke="#000" stroke-width="2.0"/>
<text x="1864.2" y="838" font-size="19.5" text-anchor="middle">100</text>
<line x1="1934.4" y1="811.3" x2="1934.4" y2="817.5" stroke="#000" stroke-width="2.0"/>
<text x="1934.4" y="838" font-size="19.5" text-anchor="middle">120</text>
<text x="1725.8" y="867.6" font-size="24" text-anchor="middle">Time (s)</text>
<text x="1708" y="516" font-size="27.4" text-anchor="middle">Nb6B9 Quench Simulation</text>
<text x="1459.9" y="664.8" font-size="23" text-anchor="middle" transform="rotate(-90 1459.9 664.8)" xml:space="preserve">Fraction Ternary  Complex</text>
<path d="M1513.2,568.8 L1515.0,576.2 L1516.7,583.0 L1518.5,589.4 L1520.2,595.5 L1522.0,601.4 L1523.7,607.1 L1525.5,612.7 L1527.2,618.1 L1529.0,623.4 L1530.8,628.5 L1532.5,633.4 L1534.3,638.3 L1536.0,643.0 L1537.8,647.6 L1539.5,652.0 L1541.3,656.4 L1543.0,660.6 L1544.8,664.7 L1546.5,668.7 L1548.3,672.5 L1550.1,676.3 L1551.8,680.0 L1553.6,683.6 L1555.3,687.0 L1557.1,690.4 L1558.8,693.7 L1560.6,696.9 L1562.3,700.0 L1564.1,703.1 L1565.9,706.0 L1567.6,708.9 L1569.4,711.6 L1571.1,714.4 L1572.9,717.0 L1574.6,719.6 L1576.4,722.1 L1578.1,724.5 L1579.9,726.8 L1581.6,729.1 L1583.4,731.4 L1585.2,733.6 L1586.9,735.7 L1588.7,737.7 L1590.4,739.7 L1592.2,741.7 L1593.9,743.6 L1595.7,745.4 L1597.4,747.2 L1599.2,749.0 L1601.0,750.6 L1602.7,752.3 L1604.5,753.9 L1606.2,755.5 L1608.0,757.0 L1609.7,758.5 L1611.5,759.9 L1613.2,761.3 L1615.0,762.7 L1616.7,764.0 L1618.5,765.3 L1620.3,766.5 L1622.0,767.7 L1623.8,768.9 L1625.5,770.1 L1627.3,771.2 L1629.0,772.3 L1630.8,773.4 L1632.5,774.4 L1634.3,775.4 L1636.0,776.4 L1637.8,777.3 L1639.6,778.2 L1641.3,779.1 L1643.1,780.0 L1644.8,780.9 L1646.6,781.7 L1648.3,782.5 L1650.1,783.3 L1651.8,784.0 L1653.6,784.8 L1655.4,785.5 L1657.1,786.2 L1658.9,786.9 L1660.6,787.6 L1662.4,788.2 L1664.1,788.8 L1665.9,789.4 L1667.6,790.0 L1669.4,790.6 L1671.2,791.2 L1672.9,791.7 L1674.7,792.3 L1676.4,792.8 L1678.2,793.3 L1679.9,793.8 L1681.7,794.2 L1683.4,794.7 L1685.2,795.2 L1686.9,795.6 L1688.7,796.0 L1690.5,796.4 L1692.2,796.8 L1694.0,797.2 L1695.7,797.6 L1697.5,798.0 L1699.2,798.4 L1701.0,798.7 L1702.7,799.1 L1704.5,799.4 L1706.2,799.7 L1708.0,800.0 L1709.8,800.3 L1711.5,800.6 L1713.3,800.9 L1715.0,801.2 L1716.8,801.5 L1718.5,801.7 L1720.3,802.0 L1722.0,802.3 L1723.8,802.5 L1725.6,802.7 L1727.3,803.0 L1729.1,803.2 L1730.8,803.4 L1732.6,803.6 L1734.3,803.8 L1736.1,804.0 L1737.8,804.2 L1739.6,804.4 L1741.4,804.6 L1743.1,804.8 L1744.9,805.0 L1746.6,805.2 L1748.4,805.3 L1750.1,805.5 L1751.9,805.6 L1753.6,805.8 L1755.4,805.9 L1757.1,806.1 L1758.9,806.2 L1760.7,806.4 L1762.4,806.5 L1764.2,806.6 L1765.9,806.8 L1767.7,806.9 L1769.4,807.0 L1771.2,807.1 L1772.9,807.2 L1774.7,807.3 L1776.5,807.5 L1778.2,807.6 L1780.0,807.7 L1781.7,807.8 L1783.5,807.9 L1785.2,808.0 L1787.0,808.0 L1788.7,808.1 L1790.5,808.2 L1792.2,808.3 L1794.0,808.4 L1795.8,808.5 L1797.5,808.5 L1799.3,808.6 L1801.0,808.7 L1802.8,808.8 L1804.5,808.8 L1806.3,808.9 L1808.0,809.0 L1809.8,809.0 L1811.6,809.1 L1813.3,809.1 L1815.1,809.2 L1816.8,809.3 L1818.6,809.3 L1820.3,809.4 L1822.1,809.4 L1823.8,809.5 L1825.6,809.5 L1827.3,809.6 L1829.1,809.6 L1830.9,809.7 L1832.6,809.7 L1834.4,809.8 L1836.1,809.8 L1837.9,809.8 L1839.6,809.9 L1841.4,809.9 L1843.1,810.0 L1844.9,810.0 L1846.7,810.0 L1848.4,810.1 L1850.2,810.1 L1851.9,810.1 L1853.7,810.2 L1855.4,810.2 L1857.2,810.2 L1858.9,810.2 L1860.7,810.3 L1862.4,810.3 L1864.2,810.3 L1866.0,810.4 L1867.7,810.4 L1869.5,810.4 L1871.2,810.4 L1873.0,810.5 L1874.7,810.5 L1876.5,810.5 L1878.2,810.5 L1880.0,810.5 L1881.8,810.6 L1883.5,810.6 L1885.3,810.6 L1887.0,810.6 L1888.8,810.6 L1890.5,810.7 L1892.3,810.7 L1894.0,810.7 L1895.8,810.7 L1897.5,810.7 L1899.3,810.7 L1901.1,810.8 L1902.8,810.8 L1904.6,810.8 L1906.3,810.8 L1908.1,810.8 L1909.8,810.8 L1911.6,810.8 L1913.3,810.9 L1915.1,810.9 L1916.9,810.9 L1918.6,810.9 L1920.4,810.9 L1922.1,810.9 L1923.9,810.9 L1925.6,810.9 L1927.4,810.9 L1929.1,811.0 L1930.9,811.0 L1932.6,811.0 L1934.4,811.0" fill="none" stroke="#b5111f" stroke-width="3" stroke-linejoin="round"/>
<path d="M1513.2,568.8 L1515.0,576.1 L1516.7,582.6 L1518.5,588.3 L1520.2,593.4 L1522.0,598.0 L1523.7,602.1 L1525.5,606.0 L1527.2,609.5 L1529.0,612.8 L1530.8,615.9 L1532.5,618.9 L1534.3,621.7 L1536.0,624.4 L1537.8,626.9 L1539.5,629.4 L1541.3,631.8 L1543.0,634.2 L1544.8,636.5 L1546.5,638.7 L1548.3,640.9 L1550.1,643.0 L1551.8,645.1 L1553.6,647.2 L1555.3,649.2 L1557.1,651.2 L1558.8,653.1 L1560.6,655.1 L1562.3,657.0 L1564.1,658.9 L1565.9,660.7 L1567.6,662.6 L1569.4,664.4 L1571.1,666.2 L1572.9,667.9 L1574.6,669.7 L1576.4,671.4 L1578.1,673.1 L1579.9,674.7 L1581.6,676.4 L1583.4,678.0 L1585.2,679.6 L1586.9,681.2 L1588.7,682.8 L1590.4,684.4 L1592.2,685.9 L1593.9,687.4 L1595.7,688.9 L1597.4,690.4 L1599.2,691.9 L1601.0,693.3 L1602.7,694.7 L1604.5,696.1 L1606.2,697.5 L1608.0,698.9 L1609.7,700.3 L1611.5,701.6 L1613.2,702.9 L1615.0,704.3 L1616.7,705.6 L1618.5,706.8 L1620.3,708.1 L1622.0,709.3 L1623.8,710.6 L1625.5,711.8 L1627.3,713.0 L1629.0,714.2 L1630.8,715.4 L1632.5,716.5 L1634.3,717.7 L1636.0,718.8 L1637.8,719.9 L1639.6,721.0 L1641.3,722.1 L1643.1,723.2 L1644.8,724.3 L1646.6,725.3 L1648.3,726.4 L1650.1,727.4 L1651.8,728.4 L1653.6,729.4 L1655.4,730.4 L1657.1,731.4 L1658.9,732.3 L1660.6,733.3 L1662.4,734.2 L1664.1,735.2 L1665.9,736.1 L1667.6,737.0 L1669.4,737.9 L1671.2,738.8 L1672.9,739.7 L1674.7,740.5 L1676.4,741.4 L1678.2,742.2 L1679.9,743.1 L1681.7,743.9 L1683.4,744.7 L1685.2,745.5 L1686.9,746.3 L1688.7,747.1 L1690.5,747.9 L1692.2,748.6 L1694.0,749.4 L1695.7,750.2 L1697.5,750.9 L1699.2,751.6 L1701.0,752.3 L1702.7,753.1 L1704.5,753.8 L1706.2,754.5 L1708.0,755.1 L1709.8,755.8 L1711.5,756.5 L1713.3,757.2 L1715.0,757.8 L1716.8,758.5 L1718.5,759.1 L1720.3,759.7 L1722.0,760.4 L1723.8,761.0 L1725.6,761.6 L1727.3,762.2 L1729.1,762.8 L1730.8,763.4 L1732.6,763.9 L1734.3,764.5 L1736.1,765.1 L1737.8,765.6 L1739.6,766.2 L1741.4,766.7 L1743.1,767.3 L1744.9,767.8 L1746.6,768.3 L1748.4,768.9 L1750.1,769.4 L1751.9,769.9 L1753.6,770.4 L1755.4,770.9 L1757.1,771.4 L1758.9,771.8 L1760.7,772.3 L1762.4,772.8 L1764.2,773.3 L1765.9,773.7 L1767.7,774.2 L1769.4,774.6 L1771.2,775.1 L1772.9,775.5 L1774.7,775.9 L1776.5,776.4 L1778.2,776.8 L1780.0,777.2 L1781.7,777.6 L1783.5,778.0 L1785.2,778.4 L1787.0,778.8 L1788.7,779.2 L1790.5,779.6 L1792.2,780.0 L1794.0,780.4 L1795.8,780.7 L1797.5,781.1 L1799.3,781.5 L1801.0,781.8 L1802.8,782.2 L1804.5,782.6 L1806.3,782.9 L1808.0,783.2 L1809.8,783.6 L1811.6,783.9 L1813.3,784.2 L1815.1,784.6 L1816.8,784.9 L1818.6,785.2 L1820.3,785.5 L1822.1,785.8 L1823.8,786.2 L1825.6,786.5 L1827.3,786.8 L1829.1,787.1 L1830.9,787.3 L1832.6,787.6 L1834.4,787.9 L1836.1,788.2 L1837.9,788.5 L1839.6,788.8 L1841.4,789.0 L1843.1,789.3 L1844.9,789.6 L1846.7,789.8 L1848.4,790.1 L1850.2,790.4 L1851.9,790.6 L1853.7,790.9 L1855.4,791.1 L1857.2,791.3 L1858.9,791.6 L1860.7,791.8 L1862.4,792.1 L1864.2,792.3 L1866.0,792.5 L1867.7,792.8 L1869.5,793.0 L1871.2,793.2 L1873.0,793.4 L1874.7,793.6 L1876.5,793.8 L1878.2,794.1 L1880.0,794.3 L1881.8,794.5 L1883.5,794.7 L1885.3,794.9 L1887.0,795.1 L1888.8,795.3 L1890.5,795.5 L1892.3,795.7 L1894.0,795.8 L1895.8,796.0 L1897.5,796.2 L1899.3,796.4 L1901.1,796.6 L1902.8,796.8 L1904.6,796.9 L1906.3,797.1 L1908.1,797.3 L1909.8,797.5 L1911.6,797.6 L1913.3,797.8 L1915.1,797.9 L1916.9,798.1 L1918.6,798.3 L1920.4,798.4 L1922.1,798.6 L1923.9,798.7 L1925.6,798.9 L1927.4,799.0 L1929.1,799.2 L1930.9,799.3 L1932.6,799.5 L1934.4,799.6" fill="none" stroke="#e8a53a" stroke-width="3" stroke-linejoin="round"/>
<path d="M1513.2,568.8 L1515.0,576.1 L1516.7,582.5 L1518.5,588.1 L1520.2,593.0 L1522.0,597.3 L1523.7,601.1 L1525.5,604.5 L1527.2,607.5 L1529.0,610.2 L1530.8,612.6 L1532.5,614.8 L1534.3,616.8 L1536.0,618.6 L1537.8,620.2 L1539.5,621.7 L1541.3,623.2 L1543.0,624.5 L1544.8,625.7 L1546.5,626.9 L1548.3,628.0 L1550.1,629.0 L1551.8,630.0 L1553.6,631.0 L1555.3,632.0 L1557.1,632.9 L1558.8,633.7 L1560.6,634.6 L1562.3,635.4 L1564.1,636.3 L1565.9,637.1 L1567.6,637.9 L1569.4,638.6 L1571.1,639.4 L1572.9,640.2 L1574.6,640.9 L1576.4,641.7 L1578.1,642.4 L1579.9,643.1 L1581.6,643.9 L1583.4,644.6 L1585.2,645.3 L1586.9,646.0 L1588.7,646.7 L1590.4,647.4 L1592.2,648.1 L1593.9,648.8 L1595.7,649.5 L1597.4,650.2 L1599.2,650.8 L1601.0,651.5 L1602.7,652.2 L1604.5,652.9 L1606.2,653.5 L1608.0,654.2 L1609.7,654.8 L1611.5,655.5 L1613.2,656.2 L1615.0,656.8 L1616.7,657.5 L1618.5,658.1 L1620.3,658.8 L1622.0,659.4 L1623.8,660.0 L1625.5,660.7 L1627.3,661.3 L1629.0,661.9 L1630.8,662.6 L1632.5,663.2 L1634.3,663.8 L1636.0,664.4 L1637.8,665.0 L1639.6,665.7 L1641.3,666.3 L1643.1,666.9 L1644.8,667.5 L1646.6,668.1 L1648.3,668.7 L1650.1,669.3 L1651.8,669.9 L1653.6,670.5 L1655.4,671.1 L1657.1,671.7 L1658.9,672.2 L1660.6,672.8 L1662.4,673.4 L1664.1,674.0 L1665.9,674.6 L1667.6,675.1 L1669.4,675.7 L1671.2,676.3 L1672.9,676.8 L1674.7,677.4 L1676.4,678.0 L1678.2,678.5 L1679.9,679.1 L1681.7,679.6 L1683.4,680.2 L1685.2,680.8 L1686.9,681.3 L1688.7,681.8 L1690.5,682.4 L1692.2,682.9 L1694.0,683.5 L1695.7,684.0 L1697.5,684.5 L1699.2,685.1 L1701.0,685.6 L1702.7,686.1 L1704.5,686.7 L1706.2,687.2 L1708.0,687.7 L1709.8,688.2 L1711.5,688.7 L1713.3,689.3 L1715.0,689.8 L1716.8,690.3 L1718.5,690.8 L1720.3,691.3 L1722.0,691.8 L1723.8,692.3 L1725.6,692.8 L1727.3,693.3 L1729.1,693.8 L1730.8,694.3 L1732.6,694.8 L1734.3,695.3 L1736.1,695.8 L1737.8,696.2 L1739.6,696.7 L1741.4,697.2 L1743.1,697.7 L1744.9,698.2 L1746.6,698.6 L1748.4,699.1 L1750.1,699.6 L1751.9,700.0 L1753.6,700.5 L1755.4,701.0 L1757.1,701.4 L1758.9,701.9 L1760.7,702.4 L1762.4,702.8 L1764.2,703.3 L1765.9,703.7 L1767.7,704.2 L1769.4,704.6 L1771.2,705.1 L1772.9,705.5 L1774.7,706.0 L1776.5,706.4 L1778.2,706.9 L1780.0,707.3 L1781.7,707.7 L1783.5,708.2 L1785.2,708.6 L1787.0,709.0 L1788.7,709.5 L1790.5,709.9 L1792.2,710.3 L1794.0,710.7 L1795.8,711.2 L1797.5,711.6 L1799.3,712.0 L1801.0,712.4 L1802.8,712.8 L1804.5,713.2 L1806.3,713.7 L1808.0,714.1 L1809.8,714.5 L1811.6,714.9 L1813.3,715.3 L1815.1,715.7 L1816.8,716.1 L1818.6,716.5 L1820.3,716.9 L1822.1,717.3 L1823.8,717.7 L1825.6,718.1 L1827.3,718.5 L1829.1,718.9 L1830.9,719.2 L1832.6,719.6 L1834.4,720.0 L1836.1,720.4 L1837.9,720.8 L1839.6,721.2 L1841.4,721.5 L1843.1,721.9 L1844.9,722.3 L1846.7,722.7 L1848.4,723.0 L1850.2,723.4 L1851.9,723.8 L1853.7,724.1 L1855.4,724.5 L1857.2,724.9 L1858.9,725.2 L1860.7,725.6 L1862.4,726.0 L1864.2,726.3 L1866.0,726.7 L1867.7,727.0 L1869.5,727.4 L1871.2,727.7 L1873.0,728.1 L1874.7,728.4 L1876.5,728.8 L1878.2,729.1 L1880.0,729.5 L1881.8,729.8 L1883.5,730.2 L1885.3,730.5 L1887.0,730.8 L1888.8,731.2 L1890.5,731.5 L1892.3,731.8 L1894.0,732.2 L1895.8,732.5 L1897.5,732.8 L1899.3,733.2 L1901.1,733.5 L1902.8,733.8 L1904.6,734.2 L1906.3,734.5 L1908.1,734.8 L1909.8,735.1 L1911.6,735.4 L1913.3,735.8 L1915.1,736.1 L1916.9,736.4 L1918.6,736.7 L1920.4,737.0 L1922.1,737.3 L1923.9,737.6 L1925.6,738.0 L1927.4,738.3 L1929.1,738.6 L1930.9,738.9 L1932.6,739.2 L1934.4,739.5" fill="none" stroke="#1e8a1e" stroke-width="3" stroke-linejoin="round"/>
<path d="M1513.2,568.8 L1515.0,576.1 L1516.7,582.5 L1518.5,588.1 L1520.2,593.0 L1522.0,597.3 L1523.7,601.0 L1525.5,604.4 L1527.2,607.3 L1529.0,609.9 L1530.8,612.2 L1532.5,614.3 L1534.3,616.2 L1536.0,617.9 L1537.8,619.4 L1539.5,620.8 L1541.3,622.1 L1543.0,623.3 L1544.8,624.4 L1546.5,625.4 L1548.3,626.4 L1550.1,627.3 L1551.8,628.1 L1553.6,628.9 L1555.3,629.7 L1557.1,630.4 L1558.8,631.2 L1560.6,631.9 L1562.3,632.5 L1564.1,633.2 L1565.9,633.8 L1567.6,634.4 L1569.4,635.1 L1571.1,635.7 L1572.9,636.3 L1574.6,636.8 L1576.4,637.4 L1578.1,638.0 L1579.9,638.6 L1581.6,639.1 L1583.4,639.7 L1585.2,640.2 L1586.9,640.8 L1588.7,641.3 L1590.4,641.9 L1592.2,642.4 L1593.9,642.9 L1595.7,643.5 L1597.4,644.0 L1599.2,644.5 L1601.0,645.0 L1602.7,645.6 L1604.5,646.1 L1606.2,646.6 L1608.0,647.1 L1609.7,647.6 L1611.5,648.1 L1613.2,648.7 L1615.0,649.2 L1616.7,649.7 L1618.5,650.2 L1620.3,650.7 L1622.0,651.2 L1623.8,651.7 L1625.5,652.2 L1627.3,652.7 L1629.0,653.2 L1630.8,653.7 L1632.5,654.2 L1634.3,654.6 L1636.0,655.1 L1637.8,655.6 L1639.6,656.1 L1641.3,656.6 L1643.1,657.1 L1644.8,657.6 L1646.6,658.0 L1648.3,658.5 L1650.1,659.0 L1651.8,659.5 L1653.6,659.9 L1655.4,660.4 L1657.1,660.9 L1658.9,661.4 L1660.6,661.8 L1662.4,662.3 L1664.1,662.8 L1665.9,663.2 L1667.6,663.7 L1669.4,664.1 L1671.2,664.6 L1672.9,665.1 L1674.7,665.5 L1676.4,666.0 L1678.2,666.4 L1679.9,666.9 L1681.7,667.3 L1683.4,667.8 L1685.2,668.2 L1686.9,668.7 L1688.7,669.1 L1690.5,669.6 L1692.2,670.0 L1694.0,670.4 L1695.7,670.9 L1697.5,671.3 L1699.2,671.7 L1701.0,672.2 L1702.7,672.6 L1704.5,673.1 L1706.2,673.5 L1708.0,673.9 L1709.8,674.3 L1711.5,674.8 L1713.3,675.2 L1715.0,675.6 L1716.8,676.0 L1718.5,676.5 L1720.3,676.9 L1722.0,677.3 L1723.8,677.7 L1725.6,678.1 L1727.3,678.6 L1729.1,679.0 L1730.8,679.4 L1732.6,679.8 L1734.3,680.2 L1736.1,680.6 L1737.8,681.0 L1739.6,681.4 L1741.4,681.8 L1743.1,682.2 L1744.9,682.6 L1746.6,683.0 L1748.4,683.4 L1750.1,683.8 L1751.9,684.2 L1753.6,684.6 L1755.4,685.0 L1757.1,685.4 L1758.9,685.8 L1760.7,686.2 L1762.4,686.6 L1764.2,687.0 L1765.9,687.4 L1767.7,687.8 L1769.4,688.1 L1771.2,688.5 L1772.9,688.9 L1774.7,689.3 L1776.5,689.7 L1778.2,690.1 L1780.0,690.4 L1781.7,690.8 L1783.5,691.2 L1785.2,691.6 L1787.0,691.9 L1788.7,692.3 L1790.5,692.7 L1792.2,693.0 L1794.0,693.4 L1795.8,693.8 L1797.5,694.2 L1799.3,694.5 L1801.0,694.9 L1802.8,695.2 L1804.5,695.6 L1806.3,696.0 L1808.0,696.3 L1809.8,696.7 L1811.6,697.0 L1813.3,697.4 L1815.1,697.8 L1816.8,698.1 L1818.6,698.5 L1820.3,698.8 L1822.1,699.2 L1823.8,699.5 L1825.6,699.9 L1827.3,700.2 L1829.1,700.6 L1830.9,700.9 L1832.6,701.2 L1834.4,701.6 L1836.1,701.9 L1837.9,702.3 L1839.6,702.6 L1841.4,703.0 L1843.1,703.3 L1844.9,703.6 L1846.7,704.0 L1848.4,704.3 L1850.2,704.6 L1851.9,705.0 L1853.7,705.3 L1855.4,705.6 L1857.2,706.0 L1858.9,706.3 L1860.7,706.6 L1862.4,706.9 L1864.2,707.3 L1866.0,707.6 L1867.7,707.9 L1869.5,708.2 L1871.2,708.6 L1873.0,708.9 L1874.7,709.2 L1876.5,709.5 L1878.2,709.8 L1880.0,710.2 L1881.8,710.5 L1883.5,710.8 L1885.3,711.1 L1887.0,711.4 L1888.8,711.7 L1890.5,712.0 L1892.3,712.3 L1894.0,712.6 L1895.8,713.0 L1897.5,713.3 L1899.3,713.6 L1901.1,713.9 L1902.8,714.2 L1904.6,714.5 L1906.3,714.8 L1908.1,715.1 L1909.8,715.4 L1911.6,715.7 L1913.3,716.0 L1915.1,716.3 L1916.9,716.6 L1918.6,716.9 L1920.4,717.2 L1922.1,717.5 L1923.9,717.8 L1925.6,718.0 L1927.4,718.3 L1929.1,718.6 L1930.9,718.9 L1932.6,719.2 L1934.4,719.5" fill="none" stroke="#1a8cff" stroke-width="3" stroke-linejoin="round"/>
<path d="M1513.2,568.8 L1515.0,576.1 L1516.7,582.5 L1518.5,588.1 L1520.2,593.0 L1522.0,597.3 L1523.7,601.0 L1525.5,604.3 L1527.2,607.3 L1529.0,609.9 L1530.8,612.2 L1532.5,614.3 L1534.3,616.1 L1536.0,617.8 L1537.8,619.3 L1539.5,620.7 L1541.3,622.0 L1543.0,623.2 L1544.8,624.2 L1546.5,625.2 L1548.3,626.2 L1550.1,627.1 L1551.8,627.9 L1553.6,628.7 L1555.3,629.5 L1557.1,630.2 L1558.8,630.9 L1560.6,631.6 L1562.3,632.2 L1564.1,632.9 L1565.9,633.5 L1567.6,634.1 L1569.4,634.7 L1571.1,635.3 L1572.9,635.8 L1574.6,636.4 L1576.4,637.0 L1578.1,637.5 L1579.9,638.1 L1581.6,638.6 L1583.4,639.2 L1585.2,639.7 L1586.9,640.2 L1588.7,640.8 L1590.4,641.3 L1592.2,641.8 L1593.9,642.3 L1595.7,642.8 L1597.4,643.3 L1599.2,643.9 L1601.0,644.4 L1602.7,644.9 L1604.5,645.4 L1606.2,645.9 L1608.0,646.4 L1609.7,646.9 L1611.5,647.4 L1613.2,647.9 L1615.0,648.4 L1616.7,648.8 L1618.5,649.3 L1620.3,649.8 L1622.0,650.3 L1623.8,650.8 L1625.5,651.3 L1627.3,651.8 L1629.0,652.2 L1630.8,652.7 L1632.5,653.2 L1634.3,653.7 L1636.0,654.1 L1637.8,654.6 L1639.6,655.1 L1641.3,655.6 L1643.1,656.0 L1644.8,656.5 L1646.6,657.0 L1648.3,657.4 L1650.1,657.9 L1651.8,658.3 L1653.6,658.8 L1655.4,659.3 L1657.1,659.7 L1658.9,660.2 L1660.6,660.6 L1662.4,661.1 L1664.1,661.5 L1665.9,662.0 L1667.6,662.4 L1669.4,662.9 L1671.2,663.3 L1672.9,663.8 L1674.7,664.2 L1676.4,664.7 L1678.2,665.1 L1679.9,665.5 L1681.7,666.0 L1683.4,666.4 L1685.2,666.9 L1686.9,667.3 L1688.7,667.7 L1690.5,668.2 L1692.2,668.6 L1694.0,669.0 L1695.7,669.4 L1697.5,669.9 L1699.2,670.3 L1701.0,670.7 L1702.7,671.1 L1704.5,671.6 L1706.2,672.0 L1708.0,672.4 L1709.8,672.8 L1711.5,673.2 L1713.3,673.7 L1715.0,674.1 L1716.8,674.5 L1718.5,674.9 L1720.3,675.3 L1722.0,675.7 L1723.8,676.1 L1725.6,676.5 L1727.3,676.9 L1729.1,677.3 L1730.8,677.7 L1732.6,678.1 L1734.3,678.5 L1736.1,678.9 L1737.8,679.3 L1739.6,679.7 L1741.4,680.1 L1743.1,680.5 L1744.9,680.9 L1746.6,681.3 L1748.4,681.7 L1750.1,682.1 L1751.9,682.5 L1753.6,682.9 L1755.4,683.3 L1757.1,683.6 L1758.9,684.0 L1760.7,684.4 L1762.4,684.8 L1764.2,685.2 L1765.9,685.5 L1767.7,685.9 L1769.4,686.3 L1771.2,686.7 L1772.9,687.1 L1774.7,687.4 L1776.5,687.8 L1778.2,688.2 L1780.0,688.5 L1781.7,688.9 L1783.5,689.3 L1785.2,689.6 L1787.0,690.0 L1788.7,690.4 L1790.5,690.7 L1792.2,691.1 L1794.0,691.5 L1795.8,691.8 L1797.5,692.2 L1799.3,692.5 L1801.0,692.9 L1802.8,693.3 L1804.5,693.6 L1806.3,694.0 L1808.0,694.3 L1809.8,694.7 L1811.6,695.0 L1813.3,695.4 L1815.1,695.7 L1816.8,696.1 L1818.6,696.4 L1820.3,696.8 L1822.1,697.1 L1823.8,697.4 L1825.6,697.8 L1827.3,698.1 L1829.1,698.5 L1830.9,698.8 L1832.6,699.2 L1834.4,699.5 L1836.1,699.8 L1837.9,700.2 L1839.6,700.5 L1841.4,700.8 L1843.1,701.2 L1844.9,701.5 L1846.7,701.8 L1848.4,702.1 L1850.2,702.5 L1851.9,702.8 L1853.7,703.1 L1855.4,703.5 L1857.2,703.8 L1858.9,704.1 L1860.7,704.4 L1862.4,704.7 L1864.2,705.1 L1866.0,705.4 L1867.7,705.7 L1869.5,706.0 L1871.2,706.3 L1873.0,706.7 L1874.7,707.0 L1876.5,707.3 L1878.2,707.6 L1880.0,707.9 L1881.8,708.2 L1883.5,708.5 L1885.3,708.8 L1887.0,709.1 L1888.8,709.5 L1890.5,709.8 L1892.3,710.1 L1894.0,710.4 L1895.8,710.7 L1897.5,711.0 L1899.3,711.3 L1901.1,711.6 L1902.8,711.9 L1904.6,712.2 L1906.3,712.5 L1908.1,712.8 L1909.8,713.1 L1911.6,713.4 L1913.3,713.7 L1915.1,714.0 L1916.9,714.2 L1918.6,714.5 L1920.4,714.8 L1922.1,715.1 L1923.9,715.4 L1925.6,715.7 L1927.4,716.0 L1929.1,716.3 L1930.9,716.6 L1932.6,716.8 L1934.4,717.1" fill="none" stroke="#3a0a9e" stroke-width="3" stroke-linejoin="round"/>
<rect x="1808.2" y="533.2" width="117.2" height="30.2" fill="#e0e0e0" stroke="none" stroke-width="1" rx="9"/>
<text x="1818" y="553.3" font-size="24" font-weight="bold" font-style="italic">k</text>
<text x="1830.5" y="559" font-size="18" font-style="italic">forward G</text>
<line x1="1813.6" y1="575.6" x2="1830.8" y2="575.6" stroke="#3a0a9e" stroke-width="2.6"/>
<text x="1838.9" y="584.4" font-size="19.5">0.0001 s<tspan dy="-8" font-size="13">-1</tspan></text>
<line x1="1813.6" y1="599.6" x2="1830.8" y2="599.6" stroke="#1a8cff" stroke-width="2.6"/>
<text x="1838.9" y="608.4" font-size="19.5">0.001 s<tspan dy="-8" font-size="13">-1</tspan></text>
<line x1="1813.6" y1="623.6" x2="1830.8" y2="623.6" stroke="#1e8a1e" stroke-width="2.6"/>
<text x="1838.9" y="632.4" font-size="19.5">0.01 s<tspan dy="-8" font-size="13">-1</tspan></text>
<line x1="1813.6" y1="647.6" x2="1830.8" y2="647.6" stroke="#e8a53a" stroke-width="2.6"/>
<text x="1838.9" y="656.4" font-size="19.5">0.1 s<tspan dy="-8" font-size="13">-1</tspan></text>
<line x1="1813.6" y1="671.6" x2="1830.8" y2="671.6" stroke="#b5111f" stroke-width="2.6"/>
<text x="1838.9" y="680.4" font-size="19.5">1 s<tspan dy="-8" font-size="13">-1</tspan></text>
<rect x="1007.6" y="68.4" width="139.1" height="25.1" fill="#b3b3b3" stroke="#333" stroke-width="1.1"/>
<text x="1077.9" y="86.4" font-size="19.6" text-anchor="middle">Syringe Driver</text>
<text x="929.3" y="132.8" font-size="22.3">Syringe 1</text>
<text x="929.6" y="156.9" font-size="19.7">Iso +/- Nb</text>
<text x="1214.9" y="132.9" font-size="22.6" text-anchor="middle">Syringe 2</text>
<text x="1215.3" y="156.9" font-size="19.7" text-anchor="middle">Iso + SPASM Sp</text>
<path d="M1051.4,268 L1051.4,303.9 L1076,303.9 L1076,318" fill="none" stroke="#16162e" stroke-width="10.0" stroke-linejoin="miter"/><path d="M1051.4,268 L1051.4,303.9 L1076,303.9 L1076,318" fill="none" stroke="#800080" stroke-width="8.4" stroke-linejoin="miter"/>
<path d="M1107.2,268 L1107.2,303.9 L1086.8,303.9 L1086.8,318" fill="none" stroke="#16162e" stroke-width="9.799999999999999" stroke-linejoin="miter"/><path d="M1107.2,268 L1107.2,303.9 L1086.8,303.9 L1086.8,318" fill="none" stroke="#f0e62e" stroke-width="8.2" stroke-linejoin="miter"/>
<defs>
<pattern id="hatch1" patternUnits="userSpaceOnUse" width="2.0" height="4" patternTransform="rotate(-25)"><rect width="2.0" height="4" fill="#ece13a"/><rect width="0.85" height="4" fill="#7a1a80"/></pattern>
<pattern id="hatch2" patternUnits="userSpaceOnUse" width="3.2" height="4" patternTransform="rotate(-27)"><rect width="3.2" height="4" fill="#f6f022"/><rect width="1.0" height="4" fill="#7a1a80"/></pattern>
</defs>
<rect x="1093.6" y="316.8" width="89" height="5.9" fill="url(#hatch1)" stroke="#3a1a4a" stroke-width="0.5"/>
<rect x="1135.9" y="305.3" width="21.8" height="26.1" fill="#6f6a66" stroke="#1a1a2a" stroke-width="1.1"/>
<rect x="1182.2" y="307.4" width="23.6" height="23.6" fill="url(#hatch2)" stroke="#1a1a2a" stroke-width="1.0"/>
<rect x="1206" y="307.4" width="4.8" height="23.6" fill="#d5cccc" stroke="#1a1a2a" stroke-width="0.8"/>
<rect x="1210.8" y="316.9" width="77.9" height="5.7" fill="#9a8f8f" stroke="#333" stroke-width="0.8"/>
<rect x="1258.2" y="312.2" width="6.4" height="18.4" fill="#9a8f8f" stroke="#333" stroke-width="0.8"/>
<rect x="1068.8" y="316.6" width="24.8" height="53.2" fill="#333333" stroke="none" stroke-width="1"/>
<rect x="1077.2" y="351.5" width="8.2" height="11.3" fill="#cccccc" stroke="none" stroke-width="1"/>
<text x="987.5" y="361" font-size="19.5">Cuvette</text>
<text x="1144.7" y="346.6" font-size="19.5" text-anchor="middle">Stop</text>
<text x="1145" y="371" font-size="19.5" text-anchor="middle">Valve</text>
<text x="1184.5" y="350.6" font-size="19.5">Waste Syringe</text>
<rect x="1041.5" y="107.1" width="18.200000000000045" height="6.2" fill="#9b8f8f" stroke="#333" stroke-width="1"/><path d="M1039.4,271 V152.9 Q1039.4,150.4 1041.9,150.4 H1061.1 Q1063.6,150.4 1063.6,152.9 V268 Q1063.6,271 1060.6,271 H1042.4 Q1039.4,271 1039.4,268 Z" fill="#fff" stroke="#16162e" stroke-width="1.4"/><rect x="1040.1000000000001" y="171" width="22.79999999999982" height="99.3" fill="#800080" stroke="none" stroke-width="1"/><rect x="1040.1000000000001" y="166.4" width="22.79999999999982" height="4.6" fill="#d8cccc" stroke="none" stroke-width="1"/><rect x="1047.6" y="113.3" width="6.7000000000000455" height="53.1" fill="#9b8f8f" stroke="#16162e" stroke-width="1.2"/>
<rect x="1097.2" y="107.1" width="18.59999999999991" height="6.2" fill="#9b8f8f" stroke="#333" stroke-width="1"/><path d="M1094.5,271 V152.9 Q1094.5,150.4 1097.0,150.4 H1117.0 Q1119.5,150.4 1119.5,152.9 V268 Q1119.5,271 1116.5,271 H1097.5 Q1094.5,271 1094.5,268 Z" fill="#fff" stroke="#16162e" stroke-width="1.4"/><rect x="1095.2" y="171" width="23.6" height="99.3" fill="#f0e62e" stroke="none" stroke-width="1"/><rect x="1095.2" y="166.4" width="23.6" height="4.6" fill="#d8cccc" stroke="none" stroke-width="1"/><rect x="1103.5" y="113.3" width="6.900000000000091" height="53.1" fill="#9b8f8f" stroke="#16162e" stroke-width="1.2"/>
<circle cx="984.8" cy="220.1" r="46.1" fill="#dfbfdf" stroke="#cccccc" stroke-width="4.8"/>
<g transform="translate(982.8,185.8) scale(0.5)"><path d="M-7.6,-6 H7.6 L0,6 Z" fill="#f4ee3a" stroke="#6a6a50" stroke-width="0.7"/></g>
<g transform="translate(1010.5,192.7) scale(0.5)"><path d="M-7.6,-6 H7.6 L0,6 Z" fill="#f4ee3a" stroke="#6a6a50" stroke-width="0.7"/></g>
<g transform="translate(972.5,199.6) scale(0.5)"><path d="M-7.6,-6 H7.6 L0,6 Z" fill="#f4ee3a" stroke="#6a6a50" stroke-width="0.7"/></g>
<g transform="translate(986.6,205.3) scale(0.5)"><path d="M-7.6,-6 H7.6 L0,6 Z" fill="#f4ee3a" stroke="#6a6a50" stroke-width="0.7"/></g>
<g transform="translate(958.7,216) scale(0.5)"><path d="M-7.6,-6 H7.6 L0,6 Z" fill="#f4ee3a" stroke="#6a6a50" stroke-width="0.7"/></g>
<g transform="translate(999.2,230.4) scale(0.5)"><path d="M-7.6,-6 H7.6 L0,6 Z" fill="#f4ee3a" stroke="#6a6a50" stroke-width="0.7"/></g>
<g transform="translate(978.8,233.6) scale(0.5)"><path d="M-7.6,-6 H7.6 L0,6 Z" fill="#f4ee3a" stroke="#6a6a50" stroke-width="0.7"/></g>
<g transform="translate(1004.9,241.1) scale(0.5)"><path d="M-7.6,-6 H7.6 L0,6 Z" fill="#f4ee3a" stroke="#6a6a50" stroke-width="0.7"/></g>
<g transform="translate(971.8,254.3) scale(0.5)"><path d="M-7.6,-6 H7.6 L0,6 Z" fill="#f4ee3a" stroke="#6a6a50" stroke-width="0.7"/></g>
<g transform="translate(957.9,199.6) rotate(0) scale(0.58)">
<path d="M-12.7,-6.7 L-6.3,-11.7 L0.5,-4.5 L-5.5,1.8 Z M6.5,-11.7 L13,-6.6 L5.8,1.8 L-0.5,-4.5 Z M-5.3,-0.5 H5.6 V11.7 H-5.3 Z" fill="#860f89" stroke="#5a0a5c" stroke-width="0.35"/>
<path d="M-5.3,1.8 L0.2,-4.6 L5.8,1.8 L5.6,3 L-5.3,3Z" fill="#760a7a"/>
</g>
<g transform="translate(993.5,197.1) rotate(-20) scale(0.58)">
<path d="M-12.7,-6.7 L-6.3,-11.7 L0.5,-4.5 L-5.5,1.8 Z M6.5,-11.7 L13,-6.6 L5.8,1.8 L-0.5,-4.5 Z M-5.3,-0.5 H5.6 V11.7 H-5.3 Z" fill="#860f89" stroke="#5a0a5c" stroke-width="0.35"/>
<path d="M-5.3,1.8 L0.2,-4.6 L5.8,1.8 L5.6,3 L-5.3,3Z" fill="#760a7a"/>
</g>
<g transform="translate(1011.2,209) rotate(25) scale(0.58)">
<path d="M-12.7,-6.7 L-6.3,-11.7 L0.5,-4.5 L-5.5,1.8 Z M6.5,-11.7 L13,-6.6 L5.8,1.8 L-0.5,-4.5 Z M-5.3,-0.5 H5.6 V11.7 H-5.3 Z" fill="#860f89" stroke="#5a0a5c" stroke-width="0.35"/>
<path d="M-5.3,1.8 L0.2,-4.6 L5.8,1.8 L5.6,3 L-5.3,3Z" fill="#760a7a"/>
</g>
<g transform="translate(972.5,217.8) rotate(15) scale(0.58)">
<path d="M-12.7,-6.7 L-6.3,-11.7 L0.5,-4.5 L-5.5,1.8 Z M6.5,-11.7 L13,-6.6 L5.8,1.8 L-0.5,-4.5 Z M-5.3,-0.5 H5.6 V11.7 H-5.3 Z" fill="#860f89" stroke="#5a0a5c" stroke-width="0.35"/>
<path d="M-5.3,1.8 L0.2,-4.6 L5.8,1.8 L5.6,3 L-5.3,3Z" fill="#760a7a"/>
</g>
<g transform="translate(988.9,214.7) rotate(-25) scale(0.58)">
<path d="M-12.7,-6.7 L-6.3,-11.7 L0.5,-4.5 L-5.5,1.8 Z M6.5,-11.7 L13,-6.6 L5.8,1.8 L-0.5,-4.5 Z M-5.3,-0.5 H5.6 V11.7 H-5.3 Z" fill="#860f89" stroke="#5a0a5c" stroke-width="0.35"/>
<path d="M-5.3,1.8 L0.2,-4.6 L5.8,1.8 L5.6,3 L-5.3,3Z" fill="#760a7a"/>
</g>
<g transform="translate(950.8,226.6) rotate(-40) scale(0.58)">
<path d="M-12.7,-6.7 L-6.3,-11.7 L0.5,-4.5 L-5.5,1.8 Z M6.5,-11.7 L13,-6.6 L5.8,1.8 L-0.5,-4.5 Z M-5.3,-0.5 H5.6 V11.7 H-5.3 Z" fill="#860f89" stroke="#5a0a5c" stroke-width="0.35"/>
<path d="M-5.3,1.8 L0.2,-4.6 L5.8,1.8 L5.6,3 L-5.3,3Z" fill="#760a7a"/>
</g>
<g transform="translate(1015.6,228.5) rotate(25) scale(0.58)">
<path d="M-12.7,-6.7 L-6.3,-11.7 L0.5,-4.5 L-5.5,1.8 Z M6.5,-11.7 L13,-6.6 L5.8,1.8 L-0.5,-4.5 Z M-5.3,-0.5 H5.6 V11.7 H-5.3 Z" fill="#860f89" stroke="#5a0a5c" stroke-width="0.35"/>
<path d="M-5.3,1.8 L0.2,-4.6 L5.8,1.8 L5.6,3 L-5.3,3Z" fill="#760a7a"/>
</g>
<g transform="translate(967.7,239.2) rotate(35) scale(0.58)">
<path d="M-12.7,-6.7 L-6.3,-11.7 L0.5,-4.5 L-5.5,1.8 Z M6.5,-11.7 L13,-6.6 L5.8,1.8 L-0.5,-4.5 Z M-5.3,-0.5 H5.6 V11.7 H-5.3 Z" fill="#860f89" stroke="#5a0a5c" stroke-width="0.35"/>
<path d="M-5.3,1.8 L0.2,-4.6 L5.8,1.8 L5.6,3 L-5.3,3Z" fill="#760a7a"/>
</g>
<g transform="translate(986.4,245.5) rotate(-25) scale(0.58)">
<path d="M-12.7,-6.7 L-6.3,-11.7 L0.5,-4.5 L-5.5,1.8 Z M6.5,-11.7 L13,-6.6 L5.8,1.8 L-0.5,-4.5 Z M-5.3,-0.5 H5.6 V11.7 H-5.3 Z" fill="#860f89" stroke="#5a0a5c" stroke-width="0.35"/>
<path d="M-5.3,1.8 L0.2,-4.6 L5.8,1.8 L5.6,3 L-5.3,3Z" fill="#760a7a"/>
</g>
<ellipse cx="1205.2" cy="228" rx="77.2" ry="64.2" fill="#fbfae9" stroke="#d4d4d4" stroke-width="3.6"/>
<g transform="translate(1158,200) rotate(0) scale(0.4)"><rect x="-40" y="-7" width="78" height="28" fill="#dcdcdc" opacity="0.85"/><g transform="translate(-30,-30)">
<g fill="#fff" stroke="#333" stroke-width="0.9">
<path d="M8,66 C4,71 5,82 10.5,82 C16,82 16.5,73 15,67 Z"/>
<path d="M22,68 C19,75 22,84 28.5,84 C34,84 35,76 33,68 Z"/>
<path d="M39,66 C37,74 41,84 47,84 C53,84 55,75 51,64 Z"/>
</g>
<g stroke-linecap="round" fill="none">

<line x1="43" y1="8.3" x2="46" y2="59.3" stroke="#3a3a3a" stroke-width="8.4"/><line x1="43" y1="8.3" x2="46" y2="59.3" stroke="#d3d3d3" stroke-width="6.8"/>
<line x1="35.1" y1="10.9" x2="39.7" y2="56.8" stroke="#3a3a3a" stroke-width="8.4"/><line x1="35.1" y1="10.9" x2="39.7" y2="56.8" stroke="#d3d3d3" stroke-width="6.8"/>
<line x1="25.9" y1="44.3" x2="26.7" y2="61" stroke="#3a3a3a" stroke-width="8.4"/><line x1="25.9" y1="44.3" x2="26.7" y2="61" stroke="#d3d3d3" stroke-width="6.8"/>
<line x1="11.3" y1="39.3" x2="8.8" y2="66.4" stroke="#3a3a3a" stroke-width="8.4"/><line x1="11.3" y1="39.3" x2="8.8" y2="66.4" stroke="#d3d3d3" stroke-width="6.8"/>
<line x1="25.5" y1="11.7" x2="36.8" y2="61" stroke="#3a3a3a" stroke-width="8.4"/><line x1="25.5" y1="11.7" x2="36.8" y2="61" stroke="#d3d3d3" stroke-width="6.8"/>
<line x1="15.5" y1="10.9" x2="25.1" y2="41.8" stroke="#3a3a3a" stroke-width="8.4"/><line x1="15.5" y1="10.9" x2="25.1" y2="41.8" stroke="#d3d3d3" stroke-width="6.8"/>
<line x1="7.5" y1="11.7" x2="22.6" y2="66" stroke="#3a3a3a" stroke-width="8.4"/><line x1="7.5" y1="11.7" x2="22.6" y2="66" stroke="#d3d3d3" stroke-width="6.8"/>
<line x1="51" y1="13.4" x2="36.8" y2="37.6" stroke="#3a3a3a" stroke-width="8.4"/><line x1="51" y1="13.4" x2="36.8" y2="37.6" stroke="#d3d3d3" stroke-width="6.8"/>
</g>
<g transform="translate(25,21.4) scale(1.1)"><path d="M-7.6,-6 H7.6 L0,6 Z" fill="#f4ee3a" stroke="#6a6a50" stroke-width="0.7"/></g>
<path d="M34,64.5 L55.5,60.5" stroke="#3a3a3a" stroke-width="8.4" stroke-linecap="round"/>
<path d="M34,64.5 L55.5,60.5" stroke="#d3d3d3" stroke-width="6.8" stroke-linecap="round"/>
</g></g>
<g transform="translate(1199,180) rotate(25) scale(0.4)"><rect x="-40" y="-7" width="78" height="28" fill="#dcdcdc" opacity="0.85"/><g transform="translate(-30,-30)">
<g fill="#fff" stroke="#333" stroke-width="0.9">
<path d="M8,66 C4,71 5,82 10.5,82 C16,82 16.5,73 15,67 Z"/>
<path d="M22,68 C19,75 22,84 28.5,84 C34,84 35,76 33,68 Z"/>
<path d="M39,66 C37,74 41,84 47,84 C53,84 55,75 51,64 Z"/>
</g>
<g stroke-linecap="round" fill="none">

<line x1="43" y1="8.3" x2="46" y2="59.3" stroke="#3a3a3a" stroke-width="8.4"/><line x1="43" y1="8.3" x2="46" y2="59.3" stroke="#d3d3d3" stroke-width="6.8"/>
<line x1="35.1" y1="10.9" x2="39.7" y2="56.8" stroke="#3a3a3a" stroke-width="8.4"/><line x1="35.1" y1="10.9" x2="39.7" y2="56.8" stroke="#d3d3d3" stroke-width="6.8"/>
<line x1="25.9" y1="44.3" x2="26.7" y2="61" stroke="#3a3a3a" stroke-width="8.4"/><line x1="25.9" y1="44.3" x2="26.7" y2="61" stroke="#d3d3d3" stroke-width="6.8"/>
<line x1="11.3" y1="39.3" x2="8.8" y2="66.4" stroke="#3a3a3a" stroke-width="8.4"/><line x1="11.3" y1="39.3" x2="8.8" y2="66.4" stroke="#d3d3d3" stroke-width="6.8"/>
<line x1="25.5" y1="11.7" x2="36.8" y2="61" stroke="#3a3a3a" stroke-width="8.4"/><line x1="25.5" y1="11.7" x2="36.8" y2="61" stroke="#d3d3d3" stroke-width="6.8"/>
<line x1="15.5" y1="10.9" x2="25.1" y2="41.8" stroke="#3a3a3a" stroke-width="8.4"/><line x1="15.5" y1="10.9" x2="25.1" y2="41.8" stroke="#d3d3d3" stroke-width="6.8"/>
<line x1="7.5" y1="11.7" x2="22.6" y2="66" stroke="#3a3a3a" stroke-width="8.4"/><line x1="7.5" y1="11.7" x2="22.6" y2="66" stroke="#d3d3d3" stroke-width="6.8"/>
<line x1="51" y1="13.4" x2="36.8" y2="37.6" stroke="#3a3a3a" stroke-width="8.4"/><line x1="51" y1="13.4" x2="36.8" y2="37.6" stroke="#d3d3d3" stroke-width="6.8"/>
</g>
<g transform="translate(25,21.4) scale(1.1)"><path d="M-7.6,-6 H7.6 L0,6 Z" fill="#f4ee3a" stroke="#6a6a50" stroke-width="0.7"/></g>
<path d="M34,64.5 L55.5,60.5" stroke="#3a3a3a" stroke-width="8.4" stroke-linecap="round"/>
<path d="M34,64.5 L55.5,60.5" stroke="#d3d3d3" stroke-width="6.8" stroke-linecap="round"/>
</g></g>
<g transform="translate(1232,193) rotate(0) scale(0.4)"><rect x="-40" y="-7" width="78" height="28" fill="#dcdcdc" opacity="0.85"/><g transform="translate(-30,-30)">
<g fill="#fff" stroke="#333" stroke-width="0.9">
<path d="M8,66 C4,71 5,82 10.5,82 C16,82 16.5,73 15,67 Z"/>
<path d="M22,68 C19,75 22,84 28.5,84 C34,84 35,76 33,68 Z"/>
<path d="M39,66 C37,74 41,84 47,84 C53,84 55,75 51,64 Z"/>
</g>
<g stroke-linecap="round" fill="none">

<line x1="43" y1="8.3" x2="46" y2="59.3" stroke="#3a3a3a" stroke-width="8.4"/><line x1="43" y1="8.3" x2="46" y2="59.3" stroke="#d3d3d3" stroke-width="6.8"/>
<line x1="35.1" y1="10.9" x2="39.7" y2="56.8" stroke="#3a3a3a" stroke-width="8.4"/><line x1="35.1" y1="10.9" x2="39.7" y2="56.8" stroke="#d3d3d3" stroke-width="6.8"/>
<line x1="25.9" y1="44.3" x2="26.7" y2="61" stroke="#3a3a3a" stroke-width="8.4"/><line x1="25.9" y1="44.3" x2="26.7" y2="61" stroke="#d3d3d3" stroke-width="6.8"/>
<line x1="11.3" y1="39.3" x2="8.8" y2="66.4" stroke="#3a3a3a" stroke-width="8.4"/><line x1="11.3" y1="39.3" x2="8.8" y2="66.4" stroke="#d3d3d3" stroke-width="6.8"/>
<line x1="25.5" y1="11.7" x2="36.8" y2="61" stroke="#3a3a3a" stroke-width="8.4"/><line x1="25.5" y1="11.7" x2="36.8" y2="61" stroke="#d3d3d3" stroke-width="6.8"/>
<line x1="15.5" y1="10.9" x2="25.1" y2="41.8" stroke="#3a3a3a" stroke-width="8.4"/><line x1="15.5" y1="10.9" x2="25.1" y2="41.8" stroke="#d3d3d3" stroke-width="6.8"/>
<line x1="7.5" y1="11.7" x2="22.6" y2="66" stroke="#3a3a3a" stroke-width="8.4"/><line x1="7.5" y1="11.7" x2="22.6" y2="66" stroke="#d3d3d3" stroke-width="6.8"/>
<line x1="51" y1="13.4" x2="36.8" y2="37.6" stroke="#3a3a3a" stroke-width="8.4"/><line x1="51" y1="13.4" x2="36.8" y2="37.6" stroke="#d3d3d3" stroke-width="6.8"/>
</g>
<g transform="translate(25,21.4) scale(1.1)"><path d="M-7.6,-6 H7.6 L0,6 Z" fill="#f4ee3a" stroke="#6a6a50" stroke-width="0.7"/></g>
<path d="M34,64.5 L55.5,60.5" stroke="#3a3a3a" stroke-width="8.4" stroke-linecap="round"/>
<path d="M34,64.5 L55.5,60.5" stroke="#d3d3d3" stroke-width="6.8" stroke-linecap="round"/>
</g></g>
<g transform="translate(1192,245) rotate(-80) scale(0.4)"><rect x="-40" y="-7" width="78" height="28" fill="#dcdcdc" opacity="0.85"/><g transform="translate(-30,-30)">
<g fill="#fff" stroke="#333" stroke-width="0.9">
<path d="M8,66 C4,71 5,82 10.5,82 C16,82 16.5,73 15,67 Z"/>
<path d="M22,68 C19,75 22,84 28.5,84 C34,84 35,76 33,68 Z"/>
<path d="M39,66 C37,74 41,84 47,84 C53,84 55,75 51,64 Z"/>
</g>
<g stroke-linecap="round" fill="none">

<line x1="43" y1="8.3" x2="46" y2="59.3" stroke="#3a3a3a" stroke-width="8.4"/><line x1="43" y1="8.3" x2="46" y2="59.3" stroke="#d3d3d3" stroke-width="6.8"/>
<line x1="35.1" y1="10.9" x2="39.7" y2="56.8" stroke="#3a3a3a" stroke-width="8.4"/><line x1="35.1" y1="10.9" x2="39.7" y2="56.8" stroke="#d3d3d3" stroke-width="6.8"/>
<line x1="25.9" y1="44.3" x2="26.7" y2="61" stroke="#3a3a3a" stroke-width="8.4"/><line x1="25.9" y1="44.3" x2="26.7" y2="61" stroke="#d3d3d3" stroke-width="6.8"/>
<line x1="11.3" y1="39.3" x2="8.8" y2="66.4" stroke="#3a3a3a" stroke-width="8.4"/><line x1="11.3" y1="39.3" x2="8.8" y2="66.4" stroke="#d3d3d3" stroke-width="6.8"/>
<line x1="25.5" y1="11.7" x2="36.8" y2="61" stroke="#3a3a3a" stroke-width="8.4"/><line x1="25.5" y1="11.7" x2="36.8" y2="61" stroke="#d3d3d3" stroke-width="6.8"/>
<line x1="15.5" y1="10.9" x2="25.1" y2="41.8" stroke="#3a3a3a" stroke-width="8.4"/><line x1="15.5" y1="10.9" x2="25.1" y2="41.8" stroke="#d3d3d3" stroke-width="6.8"/>
<line x1="7.5" y1="11.7" x2="22.6" y2="66" stroke="#3a3a3a" stroke-width="8.4"/><line x1="7.5" y1="11.7" x2="22.6" y2="66" stroke="#d3d3d3" stroke-width="6.8"/>
<line x1="51" y1="13.4" x2="36.8" y2="37.6" stroke="#3a3a3a" stroke-width="8.4"/><line x1="51" y1="13.4" x2="36.8" y2="37.6" stroke="#d3d3d3" stroke-width="6.8"/>
</g>
<g transform="translate(25,21.4) scale(1.1)"><path d="M-7.6,-6 H7.6 L0,6 Z" fill="#f4ee3a" stroke="#6a6a50" stroke-width="0.7"/></g>
<path d="M34,64.5 L55.5,60.5" stroke="#3a3a3a" stroke-width="8.4" stroke-linecap="round"/>
<path d="M34,64.5 L55.5,60.5" stroke="#d3d3d3" stroke-width="6.8" stroke-linecap="round"/>
</g></g>
<g transform="translate(1153,253) rotate(0) scale(0.4)"><rect x="-40" y="-7" width="78" height="28" fill="#dcdcdc" opacity="0.85"/><g transform="translate(-30,-30)">
<g fill="#fff" stroke="#333" stroke-width="0.9">
<path d="M8,66 C4,71 5,82 10.5,82 C16,82 16.5,73 15,67 Z"/>
<path d="M22,68 C19,75 22,84 28.5,84 C34,84 35,76 33,68 Z"/>
<path d="M39,66 C37,74 41,84 47,84 C53,84 55,75 51,64 Z"/>
</g>
<g stroke-linecap="round" fill="none">

<line x1="43" y1="8.3" x2="46" y2="59.3" stroke="#3a3a3a" stroke-width="8.4"/><line x1="43" y1="8.3" x2="46" y2="59.3" stroke="#d3d3d3" stroke-width="6.8"/>
<line x1="35.1" y1="10.9" x2="39.7" y2="56.8" stroke="#3a3a3a" stroke-width="8.4"/><line x1="35.1" y1="10.9" x2="39.7" y2="56.8" stroke="#d3d3d3" stroke-width="6.8"/>
<line x1="25.9" y1="44.3" x2="26.7" y2="61" stroke="#3a3a3a" stroke-width="8.4"/><line x1="25.9" y1="44.3" x2="26.7" y2="61" stroke="#d3d3d3" stroke-width="6.8"/>
<line x1="11.3" y1="39.3" x2="8.8" y2="66.4" stroke="#3a3a3a" stroke-width="8.4"/><line x1="11.3" y1="39.3" x2="8.8" y2="66.4" stroke="#d3d3d3" stroke-width="6.8"/>
<line x1="25.5" y1="11.7" x2="36.8" y2="61" stroke="#3a3a3a" stroke-width="8.4"/><line x1="25.5" y1="11.7" x2="36.8" y2="61" stroke="#d3d3d3" stroke-width="6.8"/>
<line x1="15.5" y1="10.9" x2="25.1" y2="41.8" stroke="#3a3a3a" stroke-width="8.4"/><line x1="15.5" y1="10.9" x2="25.1" y2="41.8" stroke="#d3d3d3" stroke-width="6.8"/>
<line x1="7.5" y1="11.7" x2="22.6" y2="66" stroke="#3a3a3a" stroke-width="8.4"/><line x1="7.5" y1="11.7" x2="22.6" y2="66" stroke="#d3d3d3" stroke-width="6.8"/>
<line x1="51" y1="13.4" x2="36.8" y2="37.6" stroke="#3a3a3a" stroke-width="8.4"/><line x1="51" y1="13.4" x2="36.8" y2="37.6" stroke="#d3d3d3" stroke-width="6.8"/>
</g>
<g transform="translate(25,21.4) scale(1.1)"><path d="M-7.6,-6 H7.6 L0,6 Z" fill="#f4ee3a" stroke="#6a6a50" stroke-width="0.7"/></g>
<path d="M34,64.5 L55.5,60.5" stroke="#3a3a3a" stroke-width="8.4" stroke-linecap="round"/>
<path d="M34,64.5 L55.5,60.5" stroke="#d3d3d3" stroke-width="6.8" stroke-linecap="round"/>
</g></g>
<g transform="translate(1236,252) rotate(-60) scale(0.4)"><rect x="-40" y="-7" width="78" height="28" fill="#dcdcdc" opacity="0.85"/><g transform="translate(-30,-30)">
<g fill="#fff" stroke="#333" stroke-width="0.9">
<path d="M8,66 C4,71 5,82 10.5,82 C16,82 16.5,73 15,67 Z"/>
<path d="M22,68 C19,75 22,84 28.5,84 C34,84 35,76 33,68 Z"/>
<path d="M39,66 C37,74 41,84 47,84 C53,84 55,75 51,64 Z"/>
</g>
<g stroke-linecap="round" fill="none">

<line x1="43" y1="8.3" x2="46" y2="59.3" stroke="#3a3a3a" stroke-width="8.4"/><line x1="43" y1="8.3" x2="46" y2="59.3" stroke="#d3d3d3" stroke-width="6.8"/>
<line x1="35.1" y1="10.9" x2="39.7" y2="56.8" stroke="#3a3a3a" stroke-width="8.4"/><line x1="35.1" y1="10.9" x2="39.7" y2="56.8" stroke="#d3d3d3" stroke-width="6.8"/>
<line x1="25.9" y1="44.3" x2="26.7" y2="61" stroke="#3a3a3a" stroke-width="8.4"/><line x1="25.9" y1="44.3" x2="26.7" y2="61" stroke="#d3d3d3" stroke-width="6.8"/>
<line x1="11.3" y1="39.3" x2="8.8" y2="66.4" stroke="#3a3a3a" stroke-width="8.4"/><line x1="11.3" y1="39.3" x2="8.8" y2="66.4" stroke="#d3d3d3" stroke-width="6.8"/>
<line x1="25.5" y1="11.7" x2="36.8" y2="61" stroke="#3a3a3a" stroke-width="8.4"/><line x1="25.5" y1="11.7" x2="36.8" y2="61" stroke="#d3d3d3" stroke-width="6.8"/>
<line x1="15.5" y1="10.9" x2="25.1" y2="41.8" stroke="#3a3a3a" stroke-width="8.4"/><line x1="15.5" y1="10.9" x2="25.1" y2="41.8" stroke="#d3d3d3" stroke-width="6.8"/>
<line x1="7.5" y1="11.7" x2="22.6" y2="66" stroke="#3a3a3a" stroke-width="8.4"/><line x1="7.5" y1="11.7" x2="22.6" y2="66" stroke="#d3d3d3" stroke-width="6.8"/>
<line x1="51" y1="13.4" x2="36.8" y2="37.6" stroke="#3a3a3a" stroke-width="8.4"/><line x1="51" y1="13.4" x2="36.8" y2="37.6" stroke="#d3d3d3" stroke-width="6.8"/>
</g>
<g transform="translate(25,21.4) scale(1.1)"><path d="M-7.6,-6 H7.6 L0,6 Z" fill="#f4ee3a" stroke="#6a6a50" stroke-width="0.7"/></g>
<path d="M34,64.5 L55.5,60.5" stroke="#3a3a3a" stroke-width="8.4" stroke-linecap="round"/>
<path d="M34,64.5 L55.5,60.5" stroke="#d3d3d3" stroke-width="6.8" stroke-linecap="round"/>
</g></g>
<path d="M1163,214 C1168,210 1172,208 1175,209 M1178,211 C1182,216 1185,222 1178,224 C1170,226 1158,226 1152,219" fill="none" stroke="#333" stroke-width="0.55"/>
<path d="M1195,197 C1190,205 1196,212 1204,210 C1212,208 1213,200 1206,198" fill="none" stroke="#333" stroke-width="0.55"/>
<path d="M1242,205 C1245,207 1246,209 1246,211 M1250,213 C1256,220 1254,228 1262,231" fill="none" stroke="#333" stroke-width="0.55"/>
<path d="M1198,231 C1205,222 1212,225 1210,236 C1209,242 1206,244 1203,242" fill="none" stroke="#333" stroke-width="0.55"/>
<path d="M1164,264 C1168,264 1170,263 1172,263 M1176,265 C1180,270 1183,276 1190,275 C1194,274 1196,273 1198,274" fill="none" stroke="#333" stroke-width="0.55"/>
<path d="M1252,247 C1259,246 1262,252 1260,258 C1257,265 1252,266 1249,263" fill="none" stroke="#333" stroke-width="0.55"/>
<rect x="1170.7" y="204.9" width="8" height="8" rx="4.0" fill="#c3b23f" stroke="#444" stroke-width="0.5"/>
<rect x="1202.2" y="195.8" width="8" height="8" rx="4.0" fill="#c3b23f" stroke="#444" stroke-width="0.5"/>
<rect x="1242.5" y="206.4" width="7" height="10" rx="3.5" fill="#c3b23f" stroke="#444" stroke-width="0.5"/>
<rect x="1192.8" y="223.6" width="7" height="7" rx="3.5" fill="#c3b23f" stroke="#444" stroke-width="0.5"/>
<rect x="1168.95" y="258.6" width="6.5" height="10" rx="3.25" fill="#c3b23f" stroke="#444" stroke-width="0.5"/>
<rect x="1247.8" y="238.0" width="8" height="8" rx="4.0" fill="#c3b23f" stroke="#444" stroke-width="0.5"/>
<rect x="1152.2" y="212.4" width="7" height="8" rx="3.5" fill="#6ecadc" stroke="#444" stroke-width="0.5"/>
<rect x="1186.2" y="189.6" width="7" height="7" rx="3.5" fill="#6ecadc" stroke="#444" stroke-width="0.5"/>
<rect x="1263.55" y="227.05" width="6.5" height="8.5" rx="3.25" fill="#6ecadc" stroke="#444" stroke-width="0.5"/>
<rect x="1200.2" y="238.75" width="7" height="6.5" rx="3.25" fill="#6ecadc" stroke="#444" stroke-width="0.5"/>
<rect x="1195.55" y="270.15" width="6.5" height="8.5" rx="3.25" fill="#6ecadc" stroke="#444" stroke-width="0.5"/>
<rect x="1244.5" y="259.3" width="8" height="7" rx="3.5" fill="#6ecadc" stroke="#444" stroke-width="0.5"/>
<line x1="1270" y1="232" x2="1274.5" y2="233.5" stroke="#e8202a" stroke-width="1.4"/>
<line x1="1202" y1="275" x2="1206.5" y2="275" stroke="#e8202a" stroke-width="1.4"/>
<g transform="translate(1178,198.1) scale(0.38)"><path d="M-7.6,-6 H7.6 L0,6 Z" fill="#f4ee3a" stroke="#6a6a50" stroke-width="0.7"/></g>
<g transform="translate(1191.3,209.7) scale(0.38)"><path d="M-7.6,-6 H7.6 L0,6 Z" fill="#f4ee3a" stroke="#6a6a50" stroke-width="0.7"/></g>
<g transform="translate(1215.4,221.3) scale(0.38)"><path d="M-7.6,-6 H7.6 L0,6 Z" fill="#f4ee3a" stroke="#6a6a50" stroke-width="0.7"/></g>
<g transform="translate(1233.6,223.8) scale(0.38)"><path d="M-7.6,-6 H7.6 L0,6 Z" fill="#f4ee3a" stroke="#6a6a50" stroke-width="0.7"/></g>
<g transform="translate(1163.4,231.3) scale(0.38)"><path d="M-7.6,-6 H7.6 L0,6 Z" fill="#f4ee3a" stroke="#6a6a50" stroke-width="0.7"/></g>
<g transform="translate(1182.2,246.2) scale(0.38)"><path d="M-7.6,-6 H7.6 L0,6 Z" fill="#f4ee3a" stroke="#6a6a50" stroke-width="0.7"/></g>
<g transform="translate(1225.3,249.5) scale(0.38)"><path d="M-7.6,-6 H7.6 L0,6 Z" fill="#f4ee3a" stroke="#6a6a50" stroke-width="0.7"/></g>
<line x1="1010.5" y1="182" x2="1038.8" y2="198" stroke="#6a5d5d" stroke-width="1.1" stroke-dasharray="5,3"/>
<line x1="1010.5" y1="258.7" x2="1038.8" y2="243" stroke="#6a5d5d" stroke-width="1.1" stroke-dasharray="5,3"/>
<line x1="1119.8" y1="202.6" x2="1143.5" y2="187.4" stroke="#6a5d5d" stroke-width="1.1" stroke-dasharray="5,3"/>
<line x1="1119.8" y1="263.5" x2="1156.5" y2="278.7" stroke="#6a5d5d" stroke-width="1.1" stroke-dasharray="5,3"/>
<defs>



</defs>
<line x1="136.4" y1="138" x2="143.3" y2="138" stroke="#777" stroke-width="1.2"/>
<line x1="204.4" y1="138" x2="211.5" y2="138" stroke="#777" stroke-width="1.2"/>
<line x1="230.9" y1="138" x2="237.5" y2="138" stroke="#777" stroke-width="1.2"/>
<line x1="299.3" y1="138" x2="306.4" y2="138" stroke="#777" stroke-width="1.2"/>
<rect x="30.5" y="126.2" width="105.9" height="23.6" fill="#d0cfcf" stroke="#555" stroke-width="1"/>
<rect x="143.5" y="126.2" width="60.8" height="23.6" fill="#c4b502" stroke="#555" stroke-width="1"/>
<rect x="211.6" y="126.2" width="19.2" height="23.6" fill="#5c5c5c" stroke="#444" stroke-width="1"/>
<rect x="237.6" y="126.2" width="61.6" height="23.6" fill="#6ccadb" stroke="#555" stroke-width="1"/>
<rect x="306.5" y="126.2" width="8.6" height="23.6" fill="#e8202a" stroke="#555" stroke-width="1"/>
<text x="221.2" y="143.2" font-size="15" text-anchor="middle" fill="#fff">10</text>
<text x="77.8" y="119.8" font-size="17.7" text-anchor="middle">β2AR</text>
<text x="173" y="118" font-size="17.7" text-anchor="middle">mCit</text>
<text x="221.3" y="100.8" font-size="17.2" text-anchor="middle">ER/K</text>
<text x="221" y="116" font-size="15" text-anchor="middle">(nm)</text>
<text x="274" y="118" font-size="17.7" text-anchor="middle">mCer</text>
<text x="305" y="118" font-size="17.2">Gα S peptide</text>
<text x="99.8" y="202" font-size="19.9" text-anchor="middle">High FRET</text>
<text x="284.2" y="201.7" font-size="19.9" text-anchor="middle">Low FRET</text>
<rect x="57.9" y="235.7" width="79.7" height="28" fill="#dcdcde" stroke="none" stroke-width="1"/>
<rect x="245.7" y="235.7" width="80.3" height="28" fill="#dcdcde" stroke="none" stroke-width="1"/>
<path d="M125.6,273.5 C131,271.5 136,271.5 142,274" fill="none" stroke="#222" stroke-width="0.9"/>
<path d="M165.5,284 C172,290 179,296 180,302 C181,309 177,316 172,314 C167,311 165,307 158,307 L131,307.5 C126,308 127,315 124,320 C120,327 112,329 104,328.5 C97,328 96,320 96,314" fill="none" stroke="#222" stroke-width="0.9"/>
<g transform="translate(70,212)">
<g fill="#fff" stroke="#333" stroke-width="0.9">
<path d="M8,66 C4,71 5,82 10.5,82 C16,82 16.5,73 15,67 Z"/>
<path d="M22,68 C19,75 22,84 28.5,84 C34,84 35,76 33,68 Z"/>
<path d="M39,66 C37,74 41,84 47,84 C53,84 55,75 51,64 Z"/>
</g>
<g stroke-linecap="round" fill="none">

<line x1="43" y1="8.3" x2="46" y2="59.3" stroke="#3a3a3a" stroke-width="8.4"/><line x1="43" y1="8.3" x2="46" y2="59.3" stroke="#d3d3d3" stroke-width="6.8"/>
<line x1="35.1" y1="10.9" x2="39.7" y2="56.8" stroke="#3a3a3a" stroke-width="8.4"/><line x1="35.1" y1="10.9" x2="39.7" y2="56.8" stroke="#d3d3d3" stroke-width="6.8"/>
<line x1="25.9" y1="44.3" x2="26.7" y2="61" stroke="#3a3a3a" stroke-width="8.4"/><line x1="25.9" y1="44.3" x2="26.7" y2="61" stroke="#d3d3d3" stroke-width="6.8"/>
<line x1="11.3" y1="39.3" x2="8.8" y2="66.4" stroke="#3a3a3a" stroke-width="8.4"/><line x1="11.3" y1="39.3" x2="8.8" y2="66.4" stroke="#d3d3d3" stroke-width="6.8"/>
<line x1="25.5" y1="11.7" x2="36.8" y2="61" stroke="#3a3a3a" stroke-width="8.4"/><line x1="25.5" y1="11.7" x2="36.8" y2="61" stroke="#d3d3d3" stroke-width="6.8"/>
<line x1="15.5" y1="10.9" x2="25.1" y2="41.8" stroke="#3a3a3a" stroke-width="8.4"/><line x1="15.5" y1="10.9" x2="25.1" y2="41.8" stroke="#d3d3d3" stroke-width="6.8"/>
<line x1="7.5" y1="11.7" x2="22.6" y2="66" stroke="#3a3a3a" stroke-width="8.4"/><line x1="7.5" y1="11.7" x2="22.6" y2="66" stroke="#d3d3d3" stroke-width="6.8"/>
<line x1="51" y1="13.4" x2="36.8" y2="37.6" stroke="#3a3a3a" stroke-width="8.4"/><line x1="51" y1="13.4" x2="36.8" y2="37.6" stroke="#d3d3d3" stroke-width="6.8"/>
</g>
<g transform="translate(25,21.4) scale(1.1)"><path d="M-7.6,-6 H7.6 L0,6 Z" fill="#f4ee3a" stroke="#6a6a50" stroke-width="0.7"/></g>
<path d="M34,64.5 L55.5,60.5" stroke="#3a3a3a" stroke-width="8.4" stroke-linecap="round"/>
<path d="M34,64.5 L55.5,60.5" stroke="#d3d3d3" stroke-width="6.8" stroke-linecap="round"/>
</g>
<rect x="141.6" y="263.3" width="25.2" height="35" rx="12.6" fill="#c3b23f" stroke="#333" stroke-width="0.9"/>
<ellipse cx="97.6" cy="301.8" rx="18" ry="12.6" fill="#6ecadc" stroke="#333" stroke-width="0.9"/>
<path d="M97.6,290 L99.4,275.5" stroke="#333" stroke-width="5.2"/><path d="M97.6,290 L99.4,275.5" stroke="#e8202a" stroke-width="3.8"/>
<g transform="translate(177.8,231.5) scale(0.86)">
<path d="M-12.7,-6.7 L-6.3,-11.7 L0.5,-4.5 L-5.5,1.8 Z M6.5,-11.7 L13,-6.6 L5.8,1.8 L-0.5,-4.5 Z M-5.3,-0.5 H5.6 V11.7 H-5.3 Z" fill="#860f89" stroke="#5a0a5c" stroke-width="0.35"/>
<path d="M-5.3,1.8 L0.2,-4.6 L5.8,1.8 L5.6,3 L-5.3,3Z" fill="#760a7a"/>
</g>
<path d="M177,242.5 C181,249 190,253.5 206,254" fill="none" stroke="#111" stroke-width="1"/>
<line x1="172.2" y1="254.4" x2="215.5" y2="254.4" stroke="#111" stroke-width="0.95"/>
<path d="M220.6,254.4 L214,251.1 L214,257.7 Z" fill="#111"/>
<path d="M311,271.5 C316,270.5 320,270.5 326,272" fill="none" stroke="#222" stroke-width="0.9"/>
<g transform="translate(257.5,209.5)">
<g fill="#fff" stroke="#333" stroke-width="0.9">
<path d="M8,66 C4,71 5,82 10.5,82 C16,82 16.5,73 15,67 Z"/>
<path d="M22,68 C19,75 22,84 28.5,84 C34,84 35,76 33,68 Z"/>
<path d="M39,66 C37,74 41,84 47,84 C53,84 55,75 51,64 Z"/>
</g>
<g stroke-linecap="round" fill="none">

<line x1="43" y1="8.3" x2="46" y2="59.3" stroke="#3a3a3a" stroke-width="8.4"/><line x1="43" y1="8.3" x2="46" y2="59.3" stroke="#d3d3d3" stroke-width="6.8"/>
<line x1="35.1" y1="10.9" x2="39.7" y2="56.8" stroke="#3a3a3a" stroke-width="8.4"/><line x1="35.1" y1="10.9" x2="39.7" y2="56.8" stroke="#d3d3d3" stroke-width="6.8"/>
<line x1="25.9" y1="44.3" x2="26.7" y2="61" stroke="#3a3a3a" stroke-width="8.4"/><line x1="25.9" y1="44.3" x2="26.7" y2="61" stroke="#d3d3d3" stroke-width="6.8"/>
<line x1="11.3" y1="39.3" x2="8.8" y2="66.4" stroke="#3a3a3a" stroke-width="8.4"/><line x1="11.3" y1="39.3" x2="8.8" y2="66.4" stroke="#d3d3d3" stroke-width="6.8"/>
<line x1="25.5" y1="11.7" x2="36.8" y2="61" stroke="#3a3a3a" stroke-width="8.4"/><line x1="25.5" y1="11.7" x2="36.8" y2="61" stroke="#d3d3d3" stroke-width="6.8"/>
<line x1="15.5" y1="10.9" x2="25.1" y2="41.8" stroke="#3a3a3a" stroke-width="8.4"/><line x1="15.5" y1="10.9" x2="25.1" y2="41.8" stroke="#d3d3d3" stroke-width="6.8"/>
<line x1="7.5" y1="11.7" x2="22.6" y2="66" stroke="#3a3a3a" stroke-width="8.4"/><line x1="7.5" y1="11.7" x2="22.6" y2="66" stroke="#d3d3d3" stroke-width="6.8"/>
<line x1="51" y1="13.4" x2="36.8" y2="37.6" stroke="#3a3a3a" stroke-width="8.4"/><line x1="51" y1="13.4" x2="36.8" y2="37.6" stroke="#d3d3d3" stroke-width="6.8"/>
</g>
<g transform="translate(25,21.4) scale(1.1)"><path d="M-7.6,-6 H7.6 L0,6 Z" fill="#f4ee3a" stroke="#6a6a50" stroke-width="0.7"/></g>
<path d="M34,64.5 L55.5,60.5" stroke="#3a3a3a" stroke-width="8.4" stroke-linecap="round"/>
<path d="M34,64.5 L55.5,60.5" stroke="#d3d3d3" stroke-width="6.8" stroke-linecap="round"/>
</g>
<rect x="325" y="262.4" width="25" height="35.4" rx="12.5" fill="#c3b23f" stroke="#333" stroke-width="0.9"/>
<path d="M349.9,278.9 C355,274 360,272.5 364,273 C372,273.5 377,279 376.5,287 C376,294 371,300 372,306 C373,312 378,315 383,313.5 C389,311.5 392,306 398,304 C404,302 409,304 413.3,309" fill="none" stroke="#222" stroke-width="0.9"/>
<rect x="413" y="294.5" width="25.8" height="35.4" rx="12.9" fill="#6ecadc" stroke="#333" stroke-width="0.9"/>
<rect x="438.8" y="310" width="14.6" height="5" fill="#e8202a" stroke="#444" stroke-width="0.6"/>
<g transform="translate(246.5,278) rotate(20) scale(0.98)">
<path d="M-12.7,-6.7 L-6.3,-11.7 L0.5,-4.5 L-5.5,1.8 Z M6.5,-11.7 L13,-6.6 L5.8,1.8 L-0.5,-4.5 Z M-5.3,-0.5 H5.6 V11.7 H-5.3 Z" fill="#860f89" stroke="#5a0a5c" stroke-width="0.35"/>
<path d="M-5.3,1.8 L0.2,-4.6 L5.8,1.8 L5.6,3 L-5.3,3Z" fill="#760a7a"/>
</g>
<g transform="translate(284.5,283) rotate(20) scale(0.98)">
<path d="M-12.7,-6.7 L-6.3,-11.7 L0.5,-4.5 L-5.5,1.8 Z M6.5,-11.7 L13,-6.6 L5.8,1.8 L-0.5,-4.5 Z M-5.3,-0.5 H5.6 V11.7 H-5.3 Z" fill="#860f89" stroke="#5a0a5c" stroke-width="0.35"/>
<path d="M-5.3,1.8 L0.2,-4.6 L5.8,1.8 L5.6,3 L-5.3,3Z" fill="#760a7a"/>
</g>
<g transform="translate(311,297) rotate(-20) scale(0.98)">
<path d="M-12.7,-6.7 L-6.3,-11.7 L0.5,-4.5 L-5.5,1.8 Z M6.5,-11.7 L13,-6.6 L5.8,1.8 L-0.5,-4.5 Z M-5.3,-0.5 H5.6 V11.7 H-5.3 Z" fill="#860f89" stroke="#5a0a5c" stroke-width="0.35"/>
<path d="M-5.3,1.8 L0.2,-4.6 L5.8,1.8 L5.6,3 L-5.3,3Z" fill="#760a7a"/>
</g>
<g transform="translate(258.5,303.7) rotate(-45) scale(0.98)">
<path d="M-12.7,-6.7 L-6.3,-11.7 L0.5,-4.5 L-5.5,1.8 Z M6.5,-11.7 L13,-6.6 L5.8,1.8 L-0.5,-4.5 Z M-5.3,-0.5 H5.6 V11.7 H-5.3 Z" fill="#860f89" stroke="#5a0a5c" stroke-width="0.35"/>
<path d="M-5.3,1.8 L0.2,-4.6 L5.8,1.8 L5.6,3 L-5.3,3Z" fill="#760a7a"/>
</g>
<g transform="translate(290.5,316.8) rotate(20) scale(0.98)">
<path d="M-12.7,-6.7 L-6.3,-11.7 L0.5,-4.5 L-5.5,1.8 Z M6.5,-11.7 L13,-6.6 L5.8,1.8 L-0.5,-4.5 Z M-5.3,-0.5 H5.6 V11.7 H-5.3 Z" fill="#860f89" stroke="#5a0a5c" stroke-width="0.35"/>
<path d="M-5.3,1.8 L0.2,-4.6 L5.8,1.8 L5.6,3 L-5.3,3Z" fill="#760a7a"/>
</g>
<g transform="translate(90.2,366.3) scale(1.02)"><path d="M-7.6,-6 H7.6 L0,6 Z" fill="#f4ee3a" stroke="#6a6a50" stroke-width="0.7"/></g>
<text x="116.6" y="373.6" font-size="20.8">Isoproterenol (Iso)</text>
<g transform="translate(91.8,401)">
<path d="M-12.7,-6.7 L-6.3,-11.7 L0.5,-4.5 L-5.5,1.8 Z M6.5,-11.7 L13,-6.6 L5.8,1.8 L-0.5,-4.5 Z M-5.3,-0.5 H5.6 V11.7 H-5.3 Z" fill="#860f89" stroke="#5a0a5c" stroke-width="0.35"/>
<path d="M-5.3,1.8 L0.2,-4.6 L5.8,1.8 L5.6,3 L-5.3,3Z" fill="#760a7a"/>
</g>
<text x="116" y="410" font-size="20.75">Nb6B9 (Nb, 10 μM)</text>
</svg>
</body></html>
